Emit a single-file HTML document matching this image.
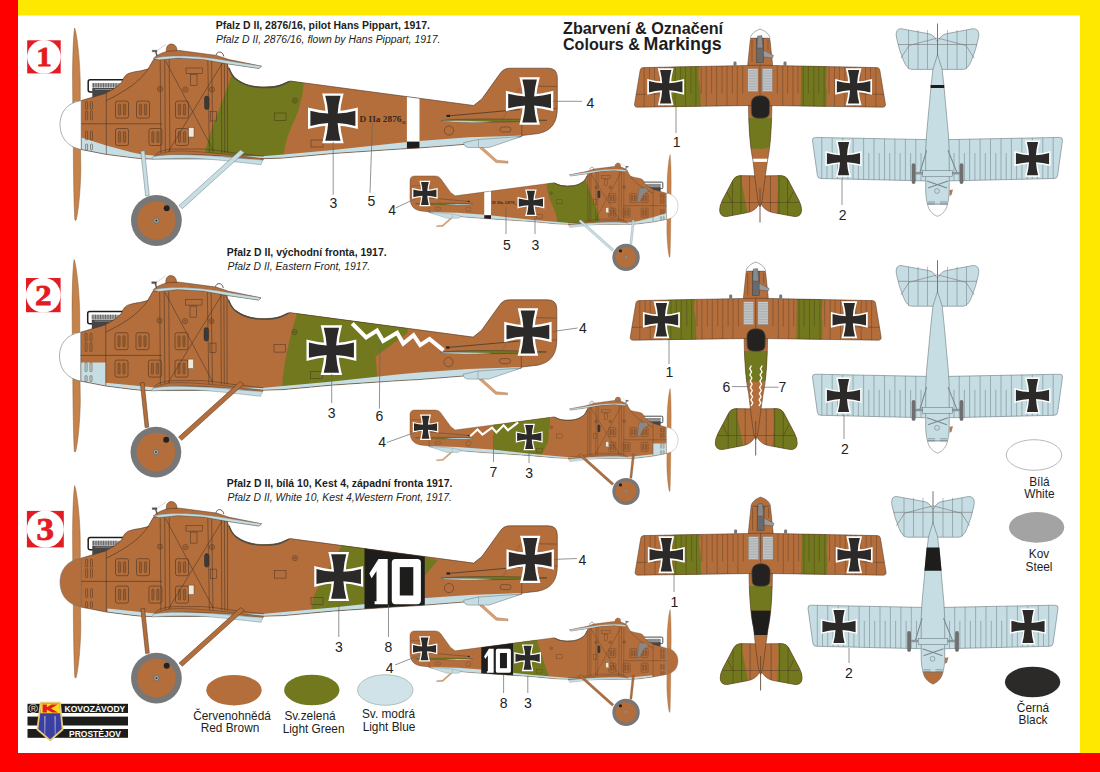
<!DOCTYPE html>
<html><head><meta charset="utf-8"><title>Pfalz D II</title>
<style>html,body{margin:0;padding:0;background:#fff}body{width:1100px;height:772px;overflow:hidden;position:relative;font-family:"Liberation Sans",sans-serif}svg{position:absolute;left:0;top:0;display:block}</style></head>
<body>
<svg width="1100" height="772" viewBox="0 0 1100 772">
<rect x="0" y="0" width="1100" height="772" fill="#ffffff"/>
<rect x="18" y="0" width="1082" height="15.5" fill="#FFE800"/>
<rect x="1080" y="0" width="20" height="753" fill="#FFE800"/>
<rect x="0" y="0" width="18" height="772" fill="#FF0000"/>
<rect x="0" y="753" width="1100" height="19" fill="#FF0000"/>
<text x="215.8" y="28.6" font-family="'Liberation Sans', sans-serif" font-size="10.45" font-weight="bold" font-style="normal" text-anchor="start" fill="#1d1d1b" >Pfalz D II, 2876/16, pilot Hans Pippart, 1917.</text>
<text x="216" y="43" font-family="'Liberation Sans', sans-serif" font-size="10.42" font-weight="normal" font-style="italic" text-anchor="start" fill="#1d1d1b" >Pfalz D II, 2876/16, flown by Hans Pippart, 1917.</text>
<text x="226.7" y="255.8" font-family="'Liberation Sans', sans-serif" font-size="10.48" font-weight="bold" font-style="normal" text-anchor="start" fill="#1d1d1b" >Pfalz D II, východní fronta, 1917.</text>
<text x="227.5" y="270.4" font-family="'Liberation Sans', sans-serif" font-size="10.4" font-weight="normal" font-style="italic" text-anchor="start" fill="#1d1d1b" >Pfalz D II, Eastern Front, 1917.</text>
<text x="226.7" y="486.9" font-family="'Liberation Sans', sans-serif" font-size="10.48" font-weight="bold" font-style="normal" text-anchor="start" fill="#1d1d1b" >Pfalz D II, bílá 10, Kest 4, západní fronta 1917.</text>
<text x="227.5" y="501.1" font-family="'Liberation Sans', sans-serif" font-size="10.4" font-weight="normal" font-style="italic" text-anchor="start" fill="#1d1d1b" >Pfalz D II, White 10, Kest 4,Western Front, 1917.</text>
<text x="563" y="33.8" font-family="'Liberation Sans', sans-serif" font-size="16.2" font-weight="bold" font-style="normal" text-anchor="start" fill="#1d1d1b" >Zbarvení &amp; Označení</text>
<text x="563" y="49.6" font-family="'Liberation Sans', sans-serif" font-size="16.1" font-weight="bold" font-style="normal" text-anchor="start" fill="#1d1d1b" >Colours &amp;</text>
<text x="643.6" y="49.8" font-family="'Liberation Sans', sans-serif" font-size="17.8" font-weight="bold" font-style="normal" text-anchor="start" fill="#1d1d1b" >Markings</text>
<rect x="27.2" y="40.3" width="33.5" height="33.10000000000001" fill="#E31B23"/><circle cx="43.95" cy="56.85" r="16.850000000000005" fill="#fff"/><g transform="translate(43.95,56.85) scale(1.13,1)"><text x="0" y="9.295" font-family="'Liberation Serif', sans-serif" font-size="27.5" font-weight="bold" font-style="normal" text-anchor="middle" fill="#E31B23" stroke="#E31B23" stroke-width="0.8">1</text></g>
<rect x="26" y="278" width="34.6" height="34.19999999999999" fill="#E31B23"/><circle cx="43.3" cy="295.1" r="17.399999999999995" fill="#fff"/><g transform="translate(43.3,295.1) scale(1.13,1)"><text x="0" y="9.971" font-family="'Liberation Serif', sans-serif" font-size="29.5" font-weight="bold" font-style="normal" text-anchor="middle" fill="#E31B23" stroke="#E31B23" stroke-width="0.8">2</text></g>
<rect x="26.9" y="510.9" width="36.9" height="36.5" fill="#E31B23"/><circle cx="45.349999999999994" cy="529.15" r="18.55" fill="#fff"/><g transform="translate(45.349999999999994,529.15) scale(1.13,1)"><text x="0" y="10.478000000000002" font-family="'Liberation Serif', sans-serif" font-size="31" font-weight="bold" font-style="normal" text-anchor="middle" fill="#E31B23" stroke="#E31B23" stroke-width="0.8">3</text></g>
<ellipse cx="234" cy="690.2" rx="27.7" ry="15.3" fill="#B36E3C" stroke="none" stroke-width="0.7"/>
<ellipse cx="311.8" cy="690" rx="27.7" ry="15.3" fill="#71781D" stroke="none" stroke-width="0.7"/>
<ellipse cx="385.3" cy="690" rx="27.7" ry="15.3" fill="#CFE3E9" stroke="#9aa" stroke-width="0.7"/>
<ellipse cx="1034" cy="455" rx="27.7" ry="15.3" fill="#fff" stroke="#999" stroke-width="0.7"/>
<ellipse cx="1036.6" cy="527.4" rx="27.7" ry="15.3" fill="#A3A3A3" stroke="none" stroke-width="0.7"/>
<ellipse cx="1032.6" cy="682" rx="27.7" ry="15.3" fill="#2b2a29" stroke="none" stroke-width="0.7"/>
<text x="232" y="719.5" font-family="'Liberation Sans', sans-serif" font-size="11.85" font-weight="normal" font-style="normal" text-anchor="middle" fill="#1d1d1b" >Červenohnědá</text>
<text x="230" y="732" font-family="'Liberation Sans', sans-serif" font-size="11.85" font-weight="normal" font-style="normal" text-anchor="middle" fill="#1d1d1b" >Red Brown</text>
<text x="310" y="719.5" font-family="'Liberation Sans', sans-serif" font-size="11.85" font-weight="normal" font-style="normal" text-anchor="middle" fill="#1d1d1b" >Sv.zelená</text>
<text x="313.6" y="732.5" font-family="'Liberation Sans', sans-serif" font-size="11.85" font-weight="normal" font-style="normal" text-anchor="middle" fill="#1d1d1b" >Light Green</text>
<text x="388.5" y="718" font-family="'Liberation Sans', sans-serif" font-size="11.85" font-weight="normal" font-style="normal" text-anchor="middle" fill="#1d1d1b" >Sv. modrá</text>
<text x="389" y="730.5" font-family="'Liberation Sans', sans-serif" font-size="11.85" font-weight="normal" font-style="normal" text-anchor="middle" fill="#1d1d1b" >Light Blue</text>
<text x="1039.4" y="485.5" font-family="'Liberation Sans', sans-serif" font-size="11.85" font-weight="normal" font-style="normal" text-anchor="middle" fill="#1d1d1b" >Bílá</text>
<text x="1039.4" y="498" font-family="'Liberation Sans', sans-serif" font-size="11.85" font-weight="normal" font-style="normal" text-anchor="middle" fill="#1d1d1b" >White</text>
<text x="1039" y="558" font-family="'Liberation Sans', sans-serif" font-size="11.85" font-weight="normal" font-style="normal" text-anchor="middle" fill="#1d1d1b" >Kov</text>
<text x="1039" y="571" font-family="'Liberation Sans', sans-serif" font-size="11.85" font-weight="normal" font-style="normal" text-anchor="middle" fill="#1d1d1b" >Steel</text>
<text x="1033" y="711.5" font-family="'Liberation Sans', sans-serif" font-size="11.85" font-weight="normal" font-style="normal" text-anchor="middle" fill="#1d1d1b" >Černá</text>
<text x="1033" y="723.5" font-family="'Liberation Sans', sans-serif" font-size="11.85" font-weight="normal" font-style="normal" text-anchor="middle" fill="#1d1d1b" >Black</text>
<rect x="27.5" y="703.8" width="100.5" height="9.2" fill="#1d1d1b"/>
<rect x="27.5" y="716.6" width="100.5" height="8.9" fill="#1d1d1b"/>
<rect x="27.5" y="729" width="100.5" height="8.8" fill="#1d1d1b"/>
<path d="M40.7,702.7 L60,702.7 L62.6,729.5 L50.2,740.4 L37.4,729.5 Z" fill="#3A3FA3" stroke="#E9CC78" stroke-width="1.8" stroke-linejoin="round"/>
<path d="M44.2,716 L45.6,716 L45.2,735.5 L44.4,734.8 Z M54.4,716 L55.8,716 L55.6,734.8 L54.8,735.5 Z" fill="#b9b6c8" opacity="0.8"/>
<path d="M41.3,703.6 L59.4,703.6 L60.2,713.3 L40.4,713.3 Z" fill="#FFD91A"/>
<path d="M42.6,704.4 L46.8,704.4 L46.8,707.2 L51.6,704.4 L57.6,704.4 L51,708.4 L58,712.6 L52,712.6 L46.8,709.6 L46.8,712.6 L42.6,712.6 Z" fill="#E31B23"/>
<circle cx="33.2" cy="708.4" r="4.2" fill="none" stroke="#ddd" stroke-width="0.8"/>
<text x="33.3" y="710.8" font-family="'Liberation Sans', sans-serif" font-size="6.6" font-weight="normal" font-style="normal" text-anchor="middle" fill="#eee" >R</text>
<text x="64.5" y="712" font-family="'Liberation Sans', sans-serif" font-size="8.55" font-weight="bold" font-style="normal" text-anchor="start" fill="#fff" >KOVOZÁVODY</text>
<text x="69" y="737" font-family="'Liberation Sans', sans-serif" font-size="8.5" font-weight="bold" font-style="normal" text-anchor="start" fill="#fff" >PROSTĚJOV</text>
<g transform="translate(0,0)">
<clipPath id="fc1"><path d="M81.2,100.6 L105.1,93.5 L114.9,88 L121.5,82.5 C122.5,80 123.5,78 124.7,76.5 C126,74.8 127.5,73.8 129.1,73.3 C133,72 137,71.3 140,71 L148,69 C150,66 152,62 153.6,59.5 L178,57 L204,59 L227,63.6 C229,70 232,76 236.4,79 C243,84 250,86 258,86.8 C268,87.5 277,86.5 281.8,84.5 L290,81 L473.6,105.5 L481.8,99 L500,73.6 Q503.5,68.2 510,68.2 L548,68.2 Q557.3,68.2 557.3,77.5 L557.3,108 C557.3,122 552,131 538,133.6 L521.8,135.5 L521.8,136.4 L489,144 L463,144.5 L419,148 L400,149 L333,153.5 L283.6,158 L262,158.7 L152,159 L142,158.7 L131.4,157.6 L106.3,154.4 L81.2,149.5 Z"/></clipPath>
<path d="M74.6,28 C76.5,32 79.6,55 80.2,80 L80.3,104.6 L80.5,146 L80.8,170 C80.5,190 78.5,210 76.3,219.5 Q75.4,221.5 74.8,219.5 C74,205 73.5,180 73.3,144.4 L72.8,104.6 L72.6,80 C72.6,55 73.5,35 74.6,28 Z" fill="#C5824A" stroke="#8a5a33" stroke-width="0.5"/>
<rect x="88.2" y="79.8" width="38" height="12.3" rx="2" fill="#fff" stroke="#1d1d1b" stroke-width="1.5"/>
<rect x="92" y="83.1" width="30" height="4.4" fill="#a5a5a5"/>
<path d="M93.5,83.1 L93.5,87.5 M96,83.1 L96,87.5 M98.5,83.1 L98.5,87.5 M101,83.1 L101,87.5 M103.5,83.1 L103.5,87.5 M106,83.1 L106,87.5 M108.5,83.1 L108.5,87.5 M111,83.1 L111,87.5 M113.5,83.1 L113.5,87.5 M116,83.1 L116,87.5" stroke="#555" stroke-width="0.8" fill="none"/>
<rect x="92.3" y="88" width="30" height="10" fill="#454545"/>
<path d="M95,89.5 L112,89.5" stroke="#999" stroke-width="0.8"/>
<g clip-path="url(#fc1)">
<rect x="55" y="40" width="510" height="130" fill="#B36E3C"/>
<path d="M231.6,60 L303.6,83 C303,100 297,115 291,128 C286,140 284,148 283.6,160 L205,160 L205.5,149 L211.3,130 L231.6,75.7 Z" fill="#71781D"/>
<path d="M81.2,137.5 L106.3,145.6 L131.4,152.2 L142.3,154.4 L153,155.5 L262,156.3 L283.6,154.5 L333,150 L400,142.7 L419,141 L469,137.3 L521.8,135.5 L560,135 L560,170 L70,170 L70,137.5 Z" fill="#C6DDE3"/>
<rect x="406.9" y="60" width="12.6" height="110" fill="#fff"/>
<rect x="406.9" y="141.6" width="12.6" height="20" fill="#1d1d1b"/>
</g>
<path d="M81.2,100.6 L105.1,93.5 L114.9,88 L121.5,82.5 C122.5,80 123.5,78 124.7,76.5 C126,74.8 127.5,73.8 129.1,73.3 C133,72 137,71.3 140,71 L148,69 C150,66 152,62 153.6,59.5 L178,57 L204,59 L227,63.6 C229,70 232,76 236.4,79 C243,84 250,86 258,86.8 C268,87.5 277,86.5 281.8,84.5 L290,81 L473.6,105.5 L481.8,99 L500,73.6 Q503.5,68.2 510,68.2 L548,68.2 Q557.3,68.2 557.3,77.5 L557.3,108 C557.3,122 552,131 538,133.6 L521.8,135.5 L521.8,136.4 L489,144 L463,144.5 L419,148 L400,149 L333,153.5 L283.6,158 L262,158.7 L152,159 L142,158.7 L131.4,157.6 L106.3,154.4 L81.2,149.5 Z" fill="none" stroke="#4a3322" stroke-width="0.6"/>
<path d="M229,68 C231,74 233,77 236.4,79.5 C243,84.5 250,86.5 258,87.3 C268,88 277,87 281.8,85 L289,81.6" fill="none" stroke="#4d4a40" stroke-width="1.4"/>
<path d="M81.2,100.6 C67,102.5 60,113 60,124 C60,136 66,146.5 81.2,149.5 Z" fill="#ffffff" stroke="#777" stroke-width="0.6"/>
<rect x="115.5" y="101.1" width="13" height="17" rx="2" fill="none" stroke="#4a3322" stroke-width="0.6"/><rect x="118.4" y="104.1" width="2.2" height="11" rx="1" fill="#9a5e30" stroke="#4a3322" stroke-width="0.4"/><rect x="123.4" y="104.1" width="2.2" height="11" rx="1" fill="#9a5e30" stroke="#4a3322" stroke-width="0.4"/>
<rect x="136.5" y="101.1" width="13" height="17" rx="2" fill="none" stroke="#4a3322" stroke-width="0.6"/><rect x="139.4" y="104.1" width="2.2" height="11" rx="1" fill="#9a5e30" stroke="#4a3322" stroke-width="0.4"/><rect x="144.4" y="104.1" width="2.2" height="11" rx="1" fill="#9a5e30" stroke="#4a3322" stroke-width="0.4"/>
<rect x="115.5" y="128.5" width="13" height="17" rx="2" fill="none" stroke="#4a3322" stroke-width="0.6"/><rect x="118.4" y="131.5" width="2.2" height="11" rx="1" fill="#9a5e30" stroke="#4a3322" stroke-width="0.4"/><rect x="123.4" y="131.5" width="2.2" height="11" rx="1" fill="#9a5e30" stroke="#4a3322" stroke-width="0.4"/>
<rect x="148.9" y="128.5" width="13" height="17" rx="2" fill="none" stroke="#4a3322" stroke-width="0.6"/><rect x="151.8" y="131.5" width="2.2" height="11" rx="1" fill="#9a5e30" stroke="#4a3322" stroke-width="0.4"/><rect x="156.8" y="131.5" width="2.2" height="11" rx="1" fill="#9a5e30" stroke="#4a3322" stroke-width="0.4"/>
<rect x="175.5" y="101.1" width="13" height="17" rx="2" fill="none" stroke="#4a3322" stroke-width="0.6"/><rect x="178.4" y="104.1" width="2.2" height="11" rx="1" fill="#9a5e30" stroke="#4a3322" stroke-width="0.4"/><rect x="183.4" y="104.1" width="2.2" height="11" rx="1" fill="#9a5e30" stroke="#4a3322" stroke-width="0.4"/>
<rect x="175.5" y="128.5" width="13" height="17" rx="2" fill="none" stroke="#4a3322" stroke-width="0.6"/><rect x="178.4" y="131.5" width="2.2" height="11" rx="1" fill="#9a5e30" stroke="#4a3322" stroke-width="0.4"/><rect x="183.4" y="131.5" width="2.2" height="11" rx="1" fill="#9a5e30" stroke="#4a3322" stroke-width="0.4"/>
<rect x="85.6" y="101.5" width="2" height="8" rx="1" fill="none" stroke="#4a3322" stroke-width="0.5"/>
<rect x="90.5" y="101.5" width="2" height="8" rx="1" fill="none" stroke="#4a3322" stroke-width="0.5"/>
<rect x="85.6" y="111" width="2" height="9" rx="1" fill="none" stroke="#4a3322" stroke-width="0.5"/>
<rect x="90.5" y="111" width="2" height="9" rx="1" fill="none" stroke="#4a3322" stroke-width="0.5"/>
<rect x="85.6" y="131" width="2" height="9" rx="1" fill="none" stroke="#4a3322" stroke-width="0.5"/>
<rect x="90.5" y="131" width="2" height="9" rx="1" fill="none" stroke="#4a3322" stroke-width="0.5"/>
<rect x="85.6" y="144" width="2" height="6" rx="1" fill="none" stroke="#4a3322" stroke-width="0.5"/>
<rect x="90.5" y="144" width="2" height="6" rx="1" fill="none" stroke="#4a3322" stroke-width="0.5"/>
<path d="M81.2,123.8 L162,123.8 M106.3,93 L106.3,154 M106.3,100.5 C116,96 128,89 135.5,82.7 C141,78 145,74 148.5,68.5" fill="none" stroke="#4a3322" stroke-width="0.6"/>
<rect x="274.5" y="113" width="11.5" height="7.5" fill="none" stroke="#4a3322" stroke-width="0.5"/>
<rect x="311" y="140" width="12" height="7" fill="none" stroke="#4a3322" stroke-width="0.5"/>
<rect x="210.5" y="111.5" width="6" height="9.5" fill="none" stroke="#4a3322" stroke-width="0.5"/>
<rect x="204.5" y="96" width="4.6" height="13.5" rx="2.3" fill="#3a3a3a" stroke="#222" stroke-width="0.4"/>
<rect x="188.5" y="127.5" width="5.5" height="9.5" fill="#f1e9d8" stroke="#4a3322" stroke-width="0.4"/>
<rect x="186" y="68" width="16.5" height="5.5" fill="none" stroke="#4a3322" stroke-width="0.5"/>
<rect x="190.5" y="74.5" width="6.5" height="11" fill="none" stroke="#4a3322" stroke-width="0.5"/>
<circle cx="160" cy="89" r="2.6" fill="none" stroke="#4a3322" stroke-width="0.5"/><circle cx="160" cy="89" r="1.1" fill="none" stroke="#4a3322" stroke-width="0.4"/>
<circle cx="185.5" cy="89.5" r="2.6" fill="none" stroke="#4a3322" stroke-width="0.5"/><circle cx="185.5" cy="89.5" r="1.1" fill="none" stroke="#4a3322" stroke-width="0.4"/>
<circle cx="212" cy="89.5" r="2.6" fill="none" stroke="#4a3322" stroke-width="0.5"/><circle cx="212" cy="89.5" r="1.1" fill="none" stroke="#4a3322" stroke-width="0.4"/>
<circle cx="295" cy="100.5" r="2.6" fill="none" stroke="#4a3322" stroke-width="0.5"/><circle cx="295" cy="100.5" r="1.1" fill="none" stroke="#4a3322" stroke-width="0.4"/>
<circle cx="449" cy="130.5" r="4.6" fill="none" stroke="#4a3322" stroke-width="0.5"/>
<rect x="500" y="127" width="11" height="5" rx="2.5" fill="none" stroke="#4a3322" stroke-width="0.5"/>
<path d="M521.8,118 L521.8,136" fill="none" stroke="#4a3322" stroke-width="0.5"/>
<path d="M481.8,146.5 L497,160.2 L508,161.3 L508,163.2 L496,162.6 L479.5,148 Z" fill="#DDA070" stroke="#9a6a45" stroke-width="0.4"/>
<path d="M463.6,142.7 C464,146 466,147.5 469,147.5 L489,147.5 L521.8,136.4 L478,139.5 Z" fill="#C6DDE3" stroke="#66757a" stroke-width="0.5"/>
<path d="M478.5,139.5 L478.5,147.3" stroke="#66757a" stroke-width="0.4" fill="none"/>
<path d="M527,86 L557,86.5 M530,108 L557,108.5" stroke="#7a4a28" stroke-width="0.8" fill="none"/>
<path d="M447,116 L520,109.5" stroke="#3a3028" stroke-width="0.7" fill="none"/>
<rect x="446.5" y="114.8" width="3.5" height="2.2" fill="#222"/>
<path d="M503,119 L520,87" stroke="#a0663a" stroke-width="1.2" fill="none"/>
<path d="M441,120.6 C460,118.3 520,118.8 547,120.3 C520,122.2 470,123 441,120.6 Z" fill="#71781D" stroke="#3a3a30" stroke-width="0.5"/>
<path d="M441,120.8 C455,122.8 480,122.8 492,121.4 C475,121 455,120.6 441,120.8 Z" fill="#C6DDE3" stroke="#66757a" stroke-width="0.3"/>
<g transform="translate(332.9,118.3) scale(22.5)"><path d="M -0.34,-1 L 0.34,-1 Q 0.235,-0.6 0.21,-0.21 Q 0.6,-0.235 1,-0.34 L 1,0.34 Q 0.6,0.235 0.21,0.21 Q 0.235,0.6 0.34,1 L -0.34,1 Q -0.235,0.6 -0.21,0.21 Q -0.6,0.235 -1,0.34 L -1,-0.34 Q -0.6,-0.235 -0.21,-0.21 Q -0.235,-0.6 -0.34,-1 Z" fill="#fff" stroke="#fff" stroke-width="0.2133" stroke-linejoin="miter"/><path d="M -0.34,-1 L 0.34,-1 Q 0.235,-0.6 0.21,-0.21 Q 0.6,-0.235 1,-0.34 L 1,0.34 Q 0.6,0.235 0.21,0.21 Q 0.235,0.6 0.34,1 L -0.34,1 Q -0.235,0.6 -0.21,0.21 Q -0.6,0.235 -1,0.34 L -1,-0.34 Q -0.6,-0.235 -0.21,-0.21 Q -0.235,-0.6 -0.34,-1 Z" fill="#2b2a29"/></g>
<text x="359.5" y="121.5" font-family="'Liberation Serif', serif" font-size="7.6" font-weight="bold" fill="#3a2a1c" textLength="42" lengthAdjust="spacingAndGlyphs">D IIa  2876</text><text x="401" y="123.5" font-family="'Liberation Serif', serif" font-size="3.5" font-weight="bold" fill="#3a2a1c">/16</text>
<g transform="translate(529.6,101) scale(21.4)"><path d="M -0.34,-1 L 0.34,-1 Q 0.235,-0.6 0.21,-0.21 Q 0.6,-0.235 1,-0.34 L 1,0.34 Q 0.6,0.235 0.21,0.21 Q 0.235,0.6 0.34,1 L -0.34,1 Q -0.235,0.6 -0.21,0.21 Q -0.6,0.235 -1,0.34 L -1,-0.34 Q -0.6,-0.235 -0.21,-0.21 Q -0.235,-0.6 -0.34,-1 Z" fill="#fff" stroke="#fff" stroke-width="0.2150" stroke-linejoin="miter"/><path d="M -0.34,-1 L 0.34,-1 Q 0.235,-0.6 0.21,-0.21 Q 0.6,-0.235 1,-0.34 L 1,0.34 Q 0.6,0.235 0.21,0.21 Q 0.235,0.6 0.34,1 L -0.34,1 Q -0.235,0.6 -0.21,0.21 Q -0.6,0.235 -1,0.34 L -1,-0.34 Q -0.6,-0.235 -0.21,-0.21 Q -0.235,-0.6 -0.34,-1 Z" fill="#2b2a29"/></g>
<path d="M160.2,59.5 L160.9,153 M164.7,59.5 L165.4,153 M169.2,59.5 L169.9,153 M207.8,59.5 L209.4,153 M211.6,59.5 L213,153 M221.3,59.5 L221.8,153 M224.4,59.5 L224.8,153 M227.5,59.5 L227.6,153 M165.6,61 L213,150 M223,62 L168,152" stroke="#4a3322" stroke-width="0.55" fill="none"/>
<path d="M154,156.3 C156,153.5 158,152.5 159,152 C164,150 168,149.3 173.6,149 L202.7,149 C212,149.6 222,151 231.8,152.6 L263.8,156.3" fill="none" stroke="#4a3322" stroke-width="0.5"/>
<path d="M154,156.6 C160,153.2 168,151.3 176,151 C195,150.6 228,154.3 263.6,158.6 L263,160.2 C240,157 205,154.2 186,154.4 C172,154.6 160,156 153,158 Z" fill="#B36E3C" stroke="#4a3322" stroke-width="0.4"/>
<path d="M153.6,156.5 C162,154.6 175,154.4 188,154.8 C205,155.2 220,156.4 231.8,157.7 L263,160 L261,164.7 L231.8,161.4 C215,159.6 200,158.4 188,158.2 C172,158.2 160,158.8 151.8,159.3 Z" fill="#C6DDE3" stroke="#66757a" stroke-width="0.4"/>
<path d="M153.4,58.5 C156,55.5 161,53 167.4,51.2 C171,50.4 176,50.3 180,50.6 L216.4,55.4 L229,59.6 L261.5,66.2 L259,68.4 L229,64 L203.6,59.4 L178.2,58 L159,59.8 Z" fill="#B36E3C" stroke="#4a3322" stroke-width="0.5"/>
<path d="M153.4,58.5 C160,56.6 170,56 180,56 C196,56 214,58.3 229,61 L261.5,66.2 L259,68.4 L229,64 L203.6,59.4 L178.2,58 L159,59.8 Z" fill="#C6DDE3" stroke="#66757a" stroke-width="0.4"/>
<path d="M166.3,51.3 C166,46 168.5,44 171.2,44 C174.5,44 177,46.5 177,50.6 Z" fill="#B36E3C" stroke="#4a3322" stroke-width="0.5"/>
<path d="M216,55.2 C216.5,52.8 218,52 219.5,52 C221.5,52 223.3,53.5 223.8,56.5" fill="none" stroke="#4a3322" stroke-width="0.8"/>
<path d="M152.2,50.2 L157,50.2 L157,51.8 L156.4,51.8 L157.5,56 L156.5,56 L155.2,51.8 L152.2,51.8 Z" fill="#555" stroke="#333" stroke-width="0.3"/>
<path d="M157,50.5 L166,44.5" stroke="#999" stroke-width="0.4"/>
<path d="M140.8,151.3 L144.6,150.7 L149.3,195.5 L145.6,196 Z" fill="#C6DDE3" stroke="#6d7c80" stroke-width="0.5"/>
<path d="M240.5,150 L244.3,152.6 L182.3,208.7 L179,205.5 Z" fill="#C6DDE3" stroke="#6d7c80" stroke-width="0.5"/>
<circle cx="156.4" cy="220.5" r="25.4" fill="#777777"/>
<circle cx="156.4" cy="220.5" r="19.3" fill="#B36E3C"/>
<circle cx="156.4" cy="220.5" r="2.6" fill="#9aa" stroke="#555" stroke-width="0.5"/><circle cx="156.4" cy="220.5" r="0.9" fill="#222"/>
<circle cx="166.7" cy="208.2" r="3" fill="#222"/>
</g>
<g transform="translate(-0.5,231.6)">
<clipPath id="fc2"><path d="M81.2,100.6 L105.1,93.5 L114.9,88 L121.5,82.5 C122.5,80 123.5,78 124.7,76.5 C126,74.8 127.5,73.8 129.1,73.3 C133,72 137,71.3 140,71 L148,69 C150,66 152,62 153.6,59.5 L178,57 L204,59 L227,63.6 C229,70 232,76 236.4,79 C243,84 250,86 258,86.8 C268,87.5 277,86.5 281.8,84.5 L290,81 L473.6,105.5 L481.8,99 L500,73.6 Q503.5,68.2 510,68.2 L548,68.2 Q557.3,68.2 557.3,77.5 L557.3,108 C557.3,122 552,131 538,133.6 L521.8,135.5 L521.8,136.4 L489,144 L463,144.5 L419,148 L400,149 L333,153.5 L283.6,158 L262,158.7 L152,159 L142,158.7 L131.4,157.6 L106.3,154.4 L81.2,149.5 Z"/></clipPath>
<path d="M74.6,28 C76.5,32 79.6,55 80.2,80 L80.3,104.6 L80.5,146 L80.8,170 C80.5,190 78.5,210 76.3,219.5 Q75.4,221.5 74.8,219.5 C74,205 73.5,180 73.3,144.4 L72.8,104.6 L72.6,80 C72.6,55 73.5,35 74.6,28 Z" fill="#C5824A" stroke="#8a5a33" stroke-width="0.5"/>
<rect x="88.2" y="79.8" width="38" height="12.3" rx="2" fill="#fff" stroke="#1d1d1b" stroke-width="1.5"/>
<rect x="92" y="83.1" width="30" height="4.4" fill="#a5a5a5"/>
<path d="M93.5,83.1 L93.5,87.5 M96,83.1 L96,87.5 M98.5,83.1 L98.5,87.5 M101,83.1 L101,87.5 M103.5,83.1 L103.5,87.5 M106,83.1 L106,87.5 M108.5,83.1 L108.5,87.5 M111,83.1 L111,87.5 M113.5,83.1 L113.5,87.5 M116,83.1 L116,87.5" stroke="#555" stroke-width="0.8" fill="none"/>
<rect x="92.3" y="88" width="30" height="10" fill="#454545"/>
<path d="M95,89.5 L112,89.5" stroke="#999" stroke-width="0.8"/>
<g clip-path="url(#fc2)">
<rect x="55" y="40" width="510" height="130" fill="#B36E3C"/>
<path d="M297,70 L410,70 L408,101.5 L376,125 L377,136 L379,160 L283,160 L283,151 C284,135 290,105 297,84 Z" fill="#71781D"/>
<path d="M70,130.9 L106.3,130.9 L106.3,151.1 L150,155.4 L153,155.6 L262,156.3 L283.6,154.5 L333,150 L400,142.7 L419,141 L469,137.3 L521.8,135.5 L560,135 L560,170 L70,170 Z" fill="#C6DDE3"/>
</g>
<path d="M81.2,100.6 L105.1,93.5 L114.9,88 L121.5,82.5 C122.5,80 123.5,78 124.7,76.5 C126,74.8 127.5,73.8 129.1,73.3 C133,72 137,71.3 140,71 L148,69 C150,66 152,62 153.6,59.5 L178,57 L204,59 L227,63.6 C229,70 232,76 236.4,79 C243,84 250,86 258,86.8 C268,87.5 277,86.5 281.8,84.5 L290,81 L473.6,105.5 L481.8,99 L500,73.6 Q503.5,68.2 510,68.2 L548,68.2 Q557.3,68.2 557.3,77.5 L557.3,108 C557.3,122 552,131 538,133.6 L521.8,135.5 L521.8,136.4 L489,144 L463,144.5 L419,148 L400,149 L333,153.5 L283.6,158 L262,158.7 L152,159 L142,158.7 L131.4,157.6 L106.3,154.4 L81.2,149.5 Z" fill="none" stroke="#4a3322" stroke-width="0.6"/>
<path d="M229,68 C231,74 233,77 236.4,79.5 C243,84.5 250,86.5 258,87.3 C268,88 277,87 281.8,85 L289,81.6" fill="none" stroke="#4d4a40" stroke-width="1.4"/>
<path d="M81.2,100.6 C67,102.5 60,113 60,124 C60,136 66,146.5 81.2,149.5 Z" fill="#ffffff" stroke="#777" stroke-width="0.6"/>
<rect x="115.5" y="101.1" width="13" height="17" rx="2" fill="none" stroke="#4a3322" stroke-width="0.6"/><rect x="118.4" y="104.1" width="2.2" height="11" rx="1" fill="#9a5e30" stroke="#4a3322" stroke-width="0.4"/><rect x="123.4" y="104.1" width="2.2" height="11" rx="1" fill="#9a5e30" stroke="#4a3322" stroke-width="0.4"/>
<rect x="136.5" y="101.1" width="13" height="17" rx="2" fill="none" stroke="#4a3322" stroke-width="0.6"/><rect x="139.4" y="104.1" width="2.2" height="11" rx="1" fill="#9a5e30" stroke="#4a3322" stroke-width="0.4"/><rect x="144.4" y="104.1" width="2.2" height="11" rx="1" fill="#9a5e30" stroke="#4a3322" stroke-width="0.4"/>
<rect x="115.5" y="128.5" width="13" height="17" rx="2" fill="none" stroke="#4a3322" stroke-width="0.6"/><rect x="118.4" y="131.5" width="2.2" height="11" rx="1" fill="#9a5e30" stroke="#4a3322" stroke-width="0.4"/><rect x="123.4" y="131.5" width="2.2" height="11" rx="1" fill="#9a5e30" stroke="#4a3322" stroke-width="0.4"/>
<rect x="148.9" y="128.5" width="13" height="17" rx="2" fill="none" stroke="#4a3322" stroke-width="0.6"/><rect x="151.8" y="131.5" width="2.2" height="11" rx="1" fill="#9a5e30" stroke="#4a3322" stroke-width="0.4"/><rect x="156.8" y="131.5" width="2.2" height="11" rx="1" fill="#9a5e30" stroke="#4a3322" stroke-width="0.4"/>
<rect x="175.5" y="101.1" width="13" height="17" rx="2" fill="none" stroke="#4a3322" stroke-width="0.6"/><rect x="178.4" y="104.1" width="2.2" height="11" rx="1" fill="#9a5e30" stroke="#4a3322" stroke-width="0.4"/><rect x="183.4" y="104.1" width="2.2" height="11" rx="1" fill="#9a5e30" stroke="#4a3322" stroke-width="0.4"/>
<rect x="175.5" y="128.5" width="13" height="17" rx="2" fill="none" stroke="#4a3322" stroke-width="0.6"/><rect x="178.4" y="131.5" width="2.2" height="11" rx="1" fill="#9a5e30" stroke="#4a3322" stroke-width="0.4"/><rect x="183.4" y="131.5" width="2.2" height="11" rx="1" fill="#9a5e30" stroke="#4a3322" stroke-width="0.4"/>
<rect x="85.6" y="101.5" width="2" height="8" rx="1" fill="none" stroke="#4a3322" stroke-width="0.5"/>
<rect x="90.5" y="101.5" width="2" height="8" rx="1" fill="none" stroke="#4a3322" stroke-width="0.5"/>
<rect x="85.6" y="111" width="2" height="9" rx="1" fill="none" stroke="#4a3322" stroke-width="0.5"/>
<rect x="90.5" y="111" width="2" height="9" rx="1" fill="none" stroke="#4a3322" stroke-width="0.5"/>
<rect x="85.6" y="131" width="2" height="9" rx="1" fill="none" stroke="#4a3322" stroke-width="0.5"/>
<rect x="90.5" y="131" width="2" height="9" rx="1" fill="none" stroke="#4a3322" stroke-width="0.5"/>
<rect x="85.6" y="144" width="2" height="6" rx="1" fill="none" stroke="#4a3322" stroke-width="0.5"/>
<rect x="90.5" y="144" width="2" height="6" rx="1" fill="none" stroke="#4a3322" stroke-width="0.5"/>
<path d="M81.2,123.8 L162,123.8 M106.3,93 L106.3,154 M106.3,100.5 C116,96 128,89 135.5,82.7 C141,78 145,74 148.5,68.5" fill="none" stroke="#4a3322" stroke-width="0.6"/>
<rect x="274.5" y="113" width="11.5" height="7.5" fill="none" stroke="#4a3322" stroke-width="0.5"/>
<rect x="311" y="140" width="12" height="7" fill="none" stroke="#4a3322" stroke-width="0.5"/>
<rect x="210.5" y="111.5" width="6" height="9.5" fill="none" stroke="#4a3322" stroke-width="0.5"/>
<rect x="204.5" y="96" width="4.6" height="13.5" rx="2.3" fill="#3a3a3a" stroke="#222" stroke-width="0.4"/>
<rect x="188.5" y="127.5" width="5.5" height="9.5" fill="#f1e9d8" stroke="#4a3322" stroke-width="0.4"/>
<rect x="186" y="68" width="16.5" height="5.5" fill="none" stroke="#4a3322" stroke-width="0.5"/>
<rect x="190.5" y="74.5" width="6.5" height="11" fill="none" stroke="#4a3322" stroke-width="0.5"/>
<circle cx="160" cy="89" r="2.6" fill="none" stroke="#4a3322" stroke-width="0.5"/><circle cx="160" cy="89" r="1.1" fill="none" stroke="#4a3322" stroke-width="0.4"/>
<circle cx="185.5" cy="89.5" r="2.6" fill="none" stroke="#4a3322" stroke-width="0.5"/><circle cx="185.5" cy="89.5" r="1.1" fill="none" stroke="#4a3322" stroke-width="0.4"/>
<circle cx="212" cy="89.5" r="2.6" fill="none" stroke="#4a3322" stroke-width="0.5"/><circle cx="212" cy="89.5" r="1.1" fill="none" stroke="#4a3322" stroke-width="0.4"/>
<circle cx="295" cy="100.5" r="2.6" fill="none" stroke="#4a3322" stroke-width="0.5"/><circle cx="295" cy="100.5" r="1.1" fill="none" stroke="#4a3322" stroke-width="0.4"/>
<circle cx="449" cy="130.5" r="4.6" fill="none" stroke="#4a3322" stroke-width="0.5"/>
<rect x="500" y="127" width="11" height="5" rx="2.5" fill="none" stroke="#4a3322" stroke-width="0.5"/>
<path d="M521.8,118 L521.8,136" fill="none" stroke="#4a3322" stroke-width="0.5"/>
<path d="M481.8,146.5 L497,160.2 L508,161.3 L508,163.2 L496,162.6 L479.5,148 Z" fill="#DDA070" stroke="#9a6a45" stroke-width="0.4"/>
<path d="M463.6,142.7 C464,146 466,147.5 469,147.5 L489,147.5 L521.8,136.4 L478,139.5 Z" fill="#C6DDE3" stroke="#66757a" stroke-width="0.5"/>
<path d="M478.5,139.5 L478.5,147.3" stroke="#66757a" stroke-width="0.4" fill="none"/>
<path d="M527,86 L557,86.5 M530,108 L557,108.5" stroke="#7a4a28" stroke-width="0.8" fill="none"/>
<path d="M447,116 L520,109.5" stroke="#3a3028" stroke-width="0.7" fill="none"/>
<rect x="446.5" y="114.8" width="3.5" height="2.2" fill="#222"/>
<path d="M503,119 L520,87" stroke="#a0663a" stroke-width="1.2" fill="none"/>
<path d="M441,120.6 C460,118.3 520,118.8 547,120.3 C520,122.2 470,123 441,120.6 Z" fill="#71781D" stroke="#3a3a30" stroke-width="0.5"/>
<path d="M441,120.8 C455,122.8 480,122.8 492,121.4 C475,121 455,120.6 441,120.8 Z" fill="#C6DDE3" stroke="#66757a" stroke-width="0.3"/>
<g transform="translate(331.9,118.6) scale(22.5)"><path d="M -0.34,-1 L 0.34,-1 Q 0.235,-0.6 0.21,-0.21 Q 0.6,-0.235 1,-0.34 L 1,0.34 Q 0.6,0.235 0.21,0.21 Q 0.235,0.6 0.34,1 L -0.34,1 Q -0.235,0.6 -0.21,0.21 Q -0.6,0.235 -1,0.34 L -1,-0.34 Q -0.6,-0.235 -0.21,-0.21 Q -0.235,-0.6 -0.34,-1 Z" fill="#fff" stroke="#fff" stroke-width="0.2133" stroke-linejoin="miter"/><path d="M -0.34,-1 L 0.34,-1 Q 0.235,-0.6 0.21,-0.21 Q 0.6,-0.235 1,-0.34 L 1,0.34 Q 0.6,0.235 0.21,0.21 Q 0.235,0.6 0.34,1 L -0.34,1 Q -0.235,0.6 -0.21,0.21 Q -0.6,0.235 -1,0.34 L -1,-0.34 Q -0.6,-0.235 -0.21,-0.21 Q -0.235,-0.6 -0.34,-1 Z" fill="#2b2a29"/></g>
<path d="M352.7,91.9 L366.6,105.8 L377.5,99 L383.6,109.5 L397.6,101.1 L403.7,112 L414,103.5 L420.7,113.5 L430,107.3 L444,118.8" fill="none" stroke="#fff" stroke-width="4" stroke-linejoin="miter" stroke-linecap="butt"/>
<g transform="translate(528.4,100.4) scale(21.4)"><path d="M -0.34,-1 L 0.34,-1 Q 0.235,-0.6 0.21,-0.21 Q 0.6,-0.235 1,-0.34 L 1,0.34 Q 0.6,0.235 0.21,0.21 Q 0.235,0.6 0.34,1 L -0.34,1 Q -0.235,0.6 -0.21,0.21 Q -0.6,0.235 -1,0.34 L -1,-0.34 Q -0.6,-0.235 -0.21,-0.21 Q -0.235,-0.6 -0.34,-1 Z" fill="#fff" stroke="#fff" stroke-width="0.2150" stroke-linejoin="miter"/><path d="M -0.34,-1 L 0.34,-1 Q 0.235,-0.6 0.21,-0.21 Q 0.6,-0.235 1,-0.34 L 1,0.34 Q 0.6,0.235 0.21,0.21 Q 0.235,0.6 0.34,1 L -0.34,1 Q -0.235,0.6 -0.21,0.21 Q -0.6,0.235 -1,0.34 L -1,-0.34 Q -0.6,-0.235 -0.21,-0.21 Q -0.235,-0.6 -0.34,-1 Z" fill="#2b2a29"/></g>
<path d="M160.2,59.5 L160.9,153 M164.7,59.5 L165.4,153 M169.2,59.5 L169.9,153 M207.8,59.5 L209.4,153 M211.6,59.5 L213,153 M221.3,59.5 L221.8,153 M224.4,59.5 L224.8,153 M227.5,59.5 L227.6,153 M165.6,61 L213,150 M223,62 L168,152" stroke="#4a3322" stroke-width="0.55" fill="none"/>
<path d="M154,156.3 C156,153.5 158,152.5 159,152 C164,150 168,149.3 173.6,149 L202.7,149 C212,149.6 222,151 231.8,152.6 L263.8,156.3" fill="none" stroke="#4a3322" stroke-width="0.5"/>
<path d="M154,156.6 C160,153.2 168,151.3 176,151 C195,150.6 228,154.3 263.6,158.6 L263,160.2 C240,157 205,154.2 186,154.4 C172,154.6 160,156 153,158 Z" fill="#B36E3C" stroke="#4a3322" stroke-width="0.4"/>
<path d="M153.6,156.5 C162,154.6 175,154.4 188,154.8 C205,155.2 220,156.4 231.8,157.7 L263,160 L261,164.7 L231.8,161.4 C215,159.6 200,158.4 188,158.2 C172,158.2 160,158.8 151.8,159.3 Z" fill="#C6DDE3" stroke="#66757a" stroke-width="0.4"/>
<path d="M153.4,58.5 C156,55.5 161,53 167.4,51.2 C171,50.4 176,50.3 180,50.6 L216.4,55.4 L229,59.6 L261.5,66.2 L259,68.4 L229,64 L203.6,59.4 L178.2,58 L159,59.8 Z" fill="#B36E3C" stroke="#4a3322" stroke-width="0.5"/>
<path d="M153.4,58.5 C160,56.6 170,56 180,56 C196,56 214,58.3 229,61 L261.5,66.2 L259,68.4 L229,64 L203.6,59.4 L178.2,58 L159,59.8 Z" fill="#C6DDE3" stroke="#66757a" stroke-width="0.4"/>
<path d="M166.3,51.3 C166,46 168.5,44 171.2,44 C174.5,44 177,46.5 177,50.6 Z" fill="#B36E3C" stroke="#4a3322" stroke-width="0.5"/>
<path d="M216,55.2 C216.5,52.8 218,52 219.5,52 C221.5,52 223.3,53.5 223.8,56.5" fill="none" stroke="#4a3322" stroke-width="0.8"/>
<path d="M152.2,50.2 L157,50.2 L157,51.8 L156.4,51.8 L157.5,56 L156.5,56 L155.2,51.8 L152.2,51.8 Z" fill="#555" stroke="#333" stroke-width="0.3"/>
<path d="M157,50.5 L166,44.5" stroke="#999" stroke-width="0.4"/>
<path d="M140.8,151.3 L144.6,150.7 L149.3,195.5 L145.6,196 Z" fill="#B36E3C" stroke="#4a3322" stroke-width="0.5"/>
<path d="M240.5,150 L244.3,152.6 L182.3,208.7 L179,205.5 Z" fill="#B36E3C" stroke="#4a3322" stroke-width="0.5"/>
<circle cx="156.4" cy="220.5" r="25.4" fill="#777777"/>
<circle cx="156.4" cy="220.5" r="19.3" fill="#B36E3C"/>
<circle cx="156.4" cy="220.5" r="2.6" fill="#9aa" stroke="#555" stroke-width="0.5"/><circle cx="156.4" cy="220.5" r="0.9" fill="#222"/>
<circle cx="166.7" cy="208.2" r="3" fill="#222"/>
</g>
<g transform="translate(0,457.6)">
<clipPath id="fc3"><path d="M81.2,100.6 L105.1,93.5 L114.9,88 L121.5,82.5 C122.5,80 123.5,78 124.7,76.5 C126,74.8 127.5,73.8 129.1,73.3 C133,72 137,71.3 140,71 L148,69 C150,66 152,62 153.6,59.5 L178,57 L204,59 L227,63.6 C229,70 232,76 236.4,79 C243,84 250,86 258,86.8 C268,87.5 277,86.5 281.8,84.5 L290,81 L473.6,105.5 L481.8,99 L500,73.6 Q503.5,68.2 510,68.2 L548,68.2 Q557.3,68.2 557.3,77.5 L557.3,108 C557.3,122 552,131 538,133.6 L521.8,135.5 L521.8,136.4 L489,144 L463,144.5 L419,148 L400,149 L333,153.5 L283.6,158 L262,158.7 L152,159 L142,158.7 L131.4,157.6 L106.3,154.4 L81.2,149.5 Z"/></clipPath>
<path d="M74.6,28 C76.5,32 79.6,55 80.2,80 L80.3,104.6 L80.5,146 L80.8,170 C80.5,190 78.5,210 76.3,219.5 Q75.4,221.5 74.8,219.5 C74,205 73.5,180 73.3,144.4 L72.8,104.6 L72.6,80 C72.6,55 73.5,35 74.6,28 Z" fill="#C5824A" stroke="#8a5a33" stroke-width="0.5"/>
<rect x="88.2" y="79.8" width="38" height="12.3" rx="2" fill="#fff" stroke="#1d1d1b" stroke-width="1.5"/>
<rect x="92" y="83.1" width="30" height="4.4" fill="#a5a5a5"/>
<path d="M93.5,83.1 L93.5,87.5 M96,83.1 L96,87.5 M98.5,83.1 L98.5,87.5 M101,83.1 L101,87.5 M103.5,83.1 L103.5,87.5 M106,83.1 L106,87.5 M108.5,83.1 L108.5,87.5 M111,83.1 L111,87.5 M113.5,83.1 L113.5,87.5 M116,83.1 L116,87.5" stroke="#555" stroke-width="0.8" fill="none"/>
<rect x="92.3" y="88" width="30" height="10" fill="#454545"/>
<path d="M95,89.5 L112,89.5" stroke="#999" stroke-width="0.8"/>
<g clip-path="url(#fc3)">
<rect x="55" y="40" width="510" height="130" fill="#B36E3C"/>
<path d="M349,70 L340.9,89.1 C336,98 333,104 329.3,110.2 C324,119 320,126 316.2,133.4 C313,140 311.5,146 310.5,160 L366,160 L366,70 Z" fill="#71781D"/>
<path d="M424,70 L424,99 L437.5,103 L424.8,118.5 Z" fill="#71781D"/>
<path d="M107.5,151 L150,155.4 L153,155.6 L262,156.3 L283.6,154.5 L333,150 L400,142.7 L419,141 L469,137.3 L521.8,135.5 L560,135 L560,170 L107.5,170 Z" fill="#C6DDE3"/>
<rect x="364.5" y="60" width="60.3" height="110" fill="#1d1d1b"/>
</g>
<path d="M81.2,100.6 L105.1,93.5 L114.9,88 L121.5,82.5 C122.5,80 123.5,78 124.7,76.5 C126,74.8 127.5,73.8 129.1,73.3 C133,72 137,71.3 140,71 L148,69 C150,66 152,62 153.6,59.5 L178,57 L204,59 L227,63.6 C229,70 232,76 236.4,79 C243,84 250,86 258,86.8 C268,87.5 277,86.5 281.8,84.5 L290,81 L473.6,105.5 L481.8,99 L500,73.6 Q503.5,68.2 510,68.2 L548,68.2 Q557.3,68.2 557.3,77.5 L557.3,108 C557.3,122 552,131 538,133.6 L521.8,135.5 L521.8,136.4 L489,144 L463,144.5 L419,148 L400,149 L333,153.5 L283.6,158 L262,158.7 L152,159 L142,158.7 L131.4,157.6 L106.3,154.4 L81.2,149.5 Z" fill="none" stroke="#4a3322" stroke-width="0.6"/>
<path d="M229,68 C231,74 233,77 236.4,79.5 C243,84.5 250,86.5 258,87.3 C268,88 277,87 281.8,85 L289,81.6" fill="none" stroke="#4d4a40" stroke-width="1.4"/>
<path d="M81.2,100.6 C67,102.5 60,113 60,124 C60,136 66,146.5 81.2,149.5 Z" fill="#B36E3C" stroke="#777" stroke-width="0.6"/>
<rect x="115.5" y="101.1" width="13" height="17" rx="2" fill="none" stroke="#4a3322" stroke-width="0.6"/><rect x="118.4" y="104.1" width="2.2" height="11" rx="1" fill="#9a5e30" stroke="#4a3322" stroke-width="0.4"/><rect x="123.4" y="104.1" width="2.2" height="11" rx="1" fill="#9a5e30" stroke="#4a3322" stroke-width="0.4"/>
<rect x="136.5" y="101.1" width="13" height="17" rx="2" fill="none" stroke="#4a3322" stroke-width="0.6"/><rect x="139.4" y="104.1" width="2.2" height="11" rx="1" fill="#9a5e30" stroke="#4a3322" stroke-width="0.4"/><rect x="144.4" y="104.1" width="2.2" height="11" rx="1" fill="#9a5e30" stroke="#4a3322" stroke-width="0.4"/>
<rect x="115.5" y="128.5" width="13" height="17" rx="2" fill="none" stroke="#4a3322" stroke-width="0.6"/><rect x="118.4" y="131.5" width="2.2" height="11" rx="1" fill="#9a5e30" stroke="#4a3322" stroke-width="0.4"/><rect x="123.4" y="131.5" width="2.2" height="11" rx="1" fill="#9a5e30" stroke="#4a3322" stroke-width="0.4"/>
<rect x="148.9" y="128.5" width="13" height="17" rx="2" fill="none" stroke="#4a3322" stroke-width="0.6"/><rect x="151.8" y="131.5" width="2.2" height="11" rx="1" fill="#9a5e30" stroke="#4a3322" stroke-width="0.4"/><rect x="156.8" y="131.5" width="2.2" height="11" rx="1" fill="#9a5e30" stroke="#4a3322" stroke-width="0.4"/>
<rect x="175.5" y="101.1" width="13" height="17" rx="2" fill="none" stroke="#4a3322" stroke-width="0.6"/><rect x="178.4" y="104.1" width="2.2" height="11" rx="1" fill="#9a5e30" stroke="#4a3322" stroke-width="0.4"/><rect x="183.4" y="104.1" width="2.2" height="11" rx="1" fill="#9a5e30" stroke="#4a3322" stroke-width="0.4"/>
<rect x="175.5" y="128.5" width="13" height="17" rx="2" fill="none" stroke="#4a3322" stroke-width="0.6"/><rect x="178.4" y="131.5" width="2.2" height="11" rx="1" fill="#9a5e30" stroke="#4a3322" stroke-width="0.4"/><rect x="183.4" y="131.5" width="2.2" height="11" rx="1" fill="#9a5e30" stroke="#4a3322" stroke-width="0.4"/>
<rect x="85.6" y="101.5" width="2" height="8" rx="1" fill="none" stroke="#4a3322" stroke-width="0.5"/>
<rect x="90.5" y="101.5" width="2" height="8" rx="1" fill="none" stroke="#4a3322" stroke-width="0.5"/>
<rect x="85.6" y="111" width="2" height="9" rx="1" fill="none" stroke="#4a3322" stroke-width="0.5"/>
<rect x="90.5" y="111" width="2" height="9" rx="1" fill="none" stroke="#4a3322" stroke-width="0.5"/>
<rect x="85.6" y="131" width="2" height="9" rx="1" fill="none" stroke="#4a3322" stroke-width="0.5"/>
<rect x="90.5" y="131" width="2" height="9" rx="1" fill="none" stroke="#4a3322" stroke-width="0.5"/>
<rect x="85.6" y="144" width="2" height="6" rx="1" fill="none" stroke="#4a3322" stroke-width="0.5"/>
<rect x="90.5" y="144" width="2" height="6" rx="1" fill="none" stroke="#4a3322" stroke-width="0.5"/>
<path d="M81.2,123.8 L162,123.8 M106.3,93 L106.3,154 M106.3,100.5 C116,96 128,89 135.5,82.7 C141,78 145,74 148.5,68.5" fill="none" stroke="#4a3322" stroke-width="0.6"/>
<rect x="274.5" y="113" width="11.5" height="7.5" fill="none" stroke="#4a3322" stroke-width="0.5"/>
<rect x="311" y="140" width="12" height="7" fill="none" stroke="#4a3322" stroke-width="0.5"/>
<rect x="210.5" y="111.5" width="6" height="9.5" fill="none" stroke="#4a3322" stroke-width="0.5"/>
<rect x="204.5" y="96" width="4.6" height="13.5" rx="2.3" fill="#3a3a3a" stroke="#222" stroke-width="0.4"/>
<rect x="188.5" y="127.5" width="5.5" height="9.5" fill="#f1e9d8" stroke="#4a3322" stroke-width="0.4"/>
<rect x="186" y="68" width="16.5" height="5.5" fill="none" stroke="#4a3322" stroke-width="0.5"/>
<rect x="190.5" y="74.5" width="6.5" height="11" fill="none" stroke="#4a3322" stroke-width="0.5"/>
<circle cx="160" cy="89" r="2.6" fill="none" stroke="#4a3322" stroke-width="0.5"/><circle cx="160" cy="89" r="1.1" fill="none" stroke="#4a3322" stroke-width="0.4"/>
<circle cx="185.5" cy="89.5" r="2.6" fill="none" stroke="#4a3322" stroke-width="0.5"/><circle cx="185.5" cy="89.5" r="1.1" fill="none" stroke="#4a3322" stroke-width="0.4"/>
<circle cx="212" cy="89.5" r="2.6" fill="none" stroke="#4a3322" stroke-width="0.5"/><circle cx="212" cy="89.5" r="1.1" fill="none" stroke="#4a3322" stroke-width="0.4"/>
<circle cx="295" cy="100.5" r="2.6" fill="none" stroke="#4a3322" stroke-width="0.5"/><circle cx="295" cy="100.5" r="1.1" fill="none" stroke="#4a3322" stroke-width="0.4"/>
<circle cx="449" cy="130.5" r="4.6" fill="none" stroke="#4a3322" stroke-width="0.5"/>
<rect x="500" y="127" width="11" height="5" rx="2.5" fill="none" stroke="#4a3322" stroke-width="0.5"/>
<path d="M521.8,118 L521.8,136" fill="none" stroke="#4a3322" stroke-width="0.5"/>
<path d="M481.8,146.5 L497,160.2 L508,161.3 L508,163.2 L496,162.6 L479.5,148 Z" fill="#DDA070" stroke="#9a6a45" stroke-width="0.4"/>
<path d="M463.6,142.7 C464,146 466,147.5 469,147.5 L489,147.5 L521.8,136.4 L478,139.5 Z" fill="#C6DDE3" stroke="#66757a" stroke-width="0.5"/>
<path d="M478.5,139.5 L478.5,147.3" stroke="#66757a" stroke-width="0.4" fill="none"/>
<path d="M527,86 L557,86.5 M530,108 L557,108.5" stroke="#7a4a28" stroke-width="0.8" fill="none"/>
<path d="M447,116 L520,109.5" stroke="#3a3028" stroke-width="0.7" fill="none"/>
<rect x="446.5" y="114.8" width="3.5" height="2.2" fill="#222"/>
<path d="M503,119 L520,87" stroke="#a0663a" stroke-width="1.2" fill="none"/>
<path d="M441,120.6 C460,118.3 520,118.8 547,120.3 C520,122.2 470,123 441,120.6 Z" fill="#71781D" stroke="#3a3a30" stroke-width="0.5"/>
<path d="M441,120.8 C455,122.8 480,122.8 492,121.4 C475,121 455,120.6 441,120.8 Z" fill="#C6DDE3" stroke="#66757a" stroke-width="0.3"/>
<g transform="translate(338.7,118.9) scale(22.25)"><path d="M -0.34,-1 L 0.34,-1 Q 0.235,-0.6 0.21,-0.21 Q 0.6,-0.235 1,-0.34 L 1,0.34 Q 0.6,0.235 0.21,0.21 Q 0.235,0.6 0.34,1 L -0.34,1 Q -0.235,0.6 -0.21,0.21 Q -0.6,0.235 -1,0.34 L -1,-0.34 Q -0.6,-0.235 -0.21,-0.21 Q -0.235,-0.6 -0.34,-1 Z" fill="#fff" stroke="#fff" stroke-width="0.1978" stroke-linejoin="miter"/><path d="M -0.34,-1 L 0.34,-1 Q 0.235,-0.6 0.21,-0.21 Q 0.6,-0.235 1,-0.34 L 1,0.34 Q 0.6,0.235 0.21,0.21 Q 0.235,0.6 0.34,1 L -0.34,1 Q -0.235,0.6 -0.21,0.21 Q -0.6,0.235 -1,0.34 L -1,-0.34 Q -0.6,-0.235 -0.21,-0.21 Q -0.235,-0.6 -0.34,-1 Z" fill="#2b2a29"/></g>
<path d="M369.30,116.00 L378.50,101.50 L387.70,101.50 L387.70,146.60 L374.60,146.60 L374.60,143.60 L376.50,143.60 L376.50,113.50 L371.60,120.60 Z" fill="#fff"/><path d="M391.80,105.10 Q391.80,101.50 395.40,101.50 L417.30,101.50 Q420.90,101.50 420.90,105.10 L420.90,143.00 Q420.90,146.60 417.30,146.60 L395.40,146.60 Q391.80,146.60 391.80,143.00 Z" fill="#fff"/><path d="M399.80,109.50 L413.30,109.50 L413.30,137.90 L399.80,137.90 Z" fill="#1d1d1b"/>
<g transform="translate(530.2,101.8) scale(21.4)"><path d="M -0.34,-1 L 0.34,-1 Q 0.235,-0.6 0.21,-0.21 Q 0.6,-0.235 1,-0.34 L 1,0.34 Q 0.6,0.235 0.21,0.21 Q 0.235,0.6 0.34,1 L -0.34,1 Q -0.235,0.6 -0.21,0.21 Q -0.6,0.235 -1,0.34 L -1,-0.34 Q -0.6,-0.235 -0.21,-0.21 Q -0.235,-0.6 -0.34,-1 Z" fill="#fff" stroke="#fff" stroke-width="0.2150" stroke-linejoin="miter"/><path d="M -0.34,-1 L 0.34,-1 Q 0.235,-0.6 0.21,-0.21 Q 0.6,-0.235 1,-0.34 L 1,0.34 Q 0.6,0.235 0.21,0.21 Q 0.235,0.6 0.34,1 L -0.34,1 Q -0.235,0.6 -0.21,0.21 Q -0.6,0.235 -1,0.34 L -1,-0.34 Q -0.6,-0.235 -0.21,-0.21 Q -0.235,-0.6 -0.34,-1 Z" fill="#2b2a29"/></g>
<path d="M160.2,59.5 L160.9,153 M164.7,59.5 L165.4,153 M169.2,59.5 L169.9,153 M207.8,59.5 L209.4,153 M211.6,59.5 L213,153 M221.3,59.5 L221.8,153 M224.4,59.5 L224.8,153 M227.5,59.5 L227.6,153 M165.6,61 L213,150 M223,62 L168,152" stroke="#4a3322" stroke-width="0.55" fill="none"/>
<path d="M154,156.3 C156,153.5 158,152.5 159,152 C164,150 168,149.3 173.6,149 L202.7,149 C212,149.6 222,151 231.8,152.6 L263.8,156.3" fill="none" stroke="#4a3322" stroke-width="0.5"/>
<path d="M154,156.6 C160,153.2 168,151.3 176,151 C195,150.6 228,154.3 263.6,158.6 L263,160.2 C240,157 205,154.2 186,154.4 C172,154.6 160,156 153,158 Z" fill="#B36E3C" stroke="#4a3322" stroke-width="0.4"/>
<path d="M153.6,156.5 C162,154.6 175,154.4 188,154.8 C205,155.2 220,156.4 231.8,157.7 L263,160 L261,164.7 L231.8,161.4 C215,159.6 200,158.4 188,158.2 C172,158.2 160,158.8 151.8,159.3 Z" fill="#C6DDE3" stroke="#66757a" stroke-width="0.4"/>
<path d="M153.4,58.5 C156,55.5 161,53 167.4,51.2 C171,50.4 176,50.3 180,50.6 L216.4,55.4 L229,59.6 L261.5,66.2 L259,68.4 L229,64 L203.6,59.4 L178.2,58 L159,59.8 Z" fill="#B36E3C" stroke="#4a3322" stroke-width="0.5"/>
<path d="M153.4,58.5 C160,56.6 170,56 180,56 C196,56 214,58.3 229,61 L261.5,66.2 L259,68.4 L229,64 L203.6,59.4 L178.2,58 L159,59.8 Z" fill="#C6DDE3" stroke="#66757a" stroke-width="0.4"/>
<path d="M166.3,51.3 C166,46 168.5,44 171.2,44 C174.5,44 177,46.5 177,50.6 Z" fill="#B36E3C" stroke="#4a3322" stroke-width="0.5"/>
<path d="M216,55.2 C216.5,52.8 218,52 219.5,52 C221.5,52 223.3,53.5 223.8,56.5" fill="none" stroke="#4a3322" stroke-width="0.8"/>
<path d="M152.2,50.2 L157,50.2 L157,51.8 L156.4,51.8 L157.5,56 L156.5,56 L155.2,51.8 L152.2,51.8 Z" fill="#555" stroke="#333" stroke-width="0.3"/>
<path d="M157,50.5 L166,44.5" stroke="#999" stroke-width="0.4"/>
<path d="M140.8,151.3 L144.6,150.7 L149.3,195.5 L145.6,196 Z" fill="#B36E3C" stroke="#4a3322" stroke-width="0.5"/>
<path d="M240.5,150 L244.3,152.6 L182.3,208.7 L179,205.5 Z" fill="#B36E3C" stroke="#4a3322" stroke-width="0.5"/>
<circle cx="156.4" cy="220.5" r="25.4" fill="#777777"/>
<circle cx="156.4" cy="220.5" r="19.3" fill="#B36E3C"/>
<circle cx="156.4" cy="220.5" r="2.6" fill="#9aa" stroke="#555" stroke-width="0.5"/><circle cx="156.4" cy="220.5" r="0.9" fill="#222"/>
<circle cx="166.7" cy="208.2" r="3" fill="#222"/>
</g>
<g transform="translate(678,154.5) scale(-0.539,0.535) translate(-60,-28.2)">
<clipPath id="fc4"><path d="M81.2,100.6 L105.1,93.5 L114.9,88 L121.5,82.5 C122.5,80 123.5,78 124.7,76.5 C126,74.8 127.5,73.8 129.1,73.3 C133,72 137,71.3 140,71 L148,69 C150,66 152,62 153.6,59.5 L178,57 L204,59 L227,63.6 C229,70 232,76 236.4,79 C243,84 250,86 258,86.8 C268,87.5 277,86.5 281.8,84.5 L290,81 L473.6,105.5 L481.8,99 L500,73.6 Q503.5,68.2 510,68.2 L548,68.2 Q557.3,68.2 557.3,77.5 L557.3,108 C557.3,122 552,131 538,133.6 L521.8,135.5 L521.8,136.4 L489,144 L463,144.5 L419,148 L400,149 L333,153.5 L283.6,158 L262,158.7 L152,159 L142,158.7 L131.4,157.6 L106.3,154.4 L81.2,149.5 Z"/></clipPath>
<path d="M74.6,28 C76.5,32 79.6,55 80.2,80 L80.3,104.6 L80.5,146 L80.8,170 C80.5,190 78.5,210 76.3,219.5 Q75.4,221.5 74.8,219.5 C74,205 73.5,180 73.3,144.4 L72.8,104.6 L72.6,80 C72.6,55 73.5,35 74.6,28 Z" fill="#C5824A" stroke="#8a5a33" stroke-width="0.5"/>
<rect x="88.2" y="79.8" width="38" height="12.3" rx="2" fill="#fff" stroke="#1d1d1b" stroke-width="1.5"/>
<rect x="92" y="83.1" width="30" height="4.4" fill="#a5a5a5"/>
<path d="M93.5,83.1 L93.5,87.5 M96,83.1 L96,87.5 M98.5,83.1 L98.5,87.5 M101,83.1 L101,87.5 M103.5,83.1 L103.5,87.5 M106,83.1 L106,87.5 M108.5,83.1 L108.5,87.5 M111,83.1 L111,87.5 M113.5,83.1 L113.5,87.5 M116,83.1 L116,87.5" stroke="#555" stroke-width="0.8" fill="none"/>
<rect x="92.3" y="88" width="30" height="10" fill="#454545"/>
<path d="M95,89.5 L112,89.5" stroke="#999" stroke-width="0.8"/>
<g clip-path="url(#fc4)">
<rect x="55" y="40" width="510" height="130" fill="#B36E3C"/>
<path d="M231.6,60 L303.6,83 C303,100 297,115 291,128 C286,140 284,148 283.6,160 L205,160 L205.5,149 L211.3,130 L231.6,75.7 Z" fill="#71781D"/>
<path d="M81.2,137.5 L106.3,145.6 L131.4,152.2 L142.3,154.4 L153,155.5 L262,156.3 L283.6,154.5 L333,150 L400,142.7 L419,141 L469,137.3 L521.8,135.5 L560,135 L560,170 L70,170 L70,137.5 Z" fill="#C6DDE3"/>
<rect x="406.9" y="60" width="12.6" height="110" fill="#fff"/>
<rect x="406.9" y="141.6" width="12.6" height="20" fill="#1d1d1b"/>
</g>
<path d="M81.2,100.6 L105.1,93.5 L114.9,88 L121.5,82.5 C122.5,80 123.5,78 124.7,76.5 C126,74.8 127.5,73.8 129.1,73.3 C133,72 137,71.3 140,71 L148,69 C150,66 152,62 153.6,59.5 L178,57 L204,59 L227,63.6 C229,70 232,76 236.4,79 C243,84 250,86 258,86.8 C268,87.5 277,86.5 281.8,84.5 L290,81 L473.6,105.5 L481.8,99 L500,73.6 Q503.5,68.2 510,68.2 L548,68.2 Q557.3,68.2 557.3,77.5 L557.3,108 C557.3,122 552,131 538,133.6 L521.8,135.5 L521.8,136.4 L489,144 L463,144.5 L419,148 L400,149 L333,153.5 L283.6,158 L262,158.7 L152,159 L142,158.7 L131.4,157.6 L106.3,154.4 L81.2,149.5 Z" fill="none" stroke="#4a3322" stroke-width="0.6"/>
<path d="M229,68 C231,74 233,77 236.4,79.5 C243,84.5 250,86.5 258,87.3 C268,88 277,87 281.8,85 L289,81.6" fill="none" stroke="#4d4a40" stroke-width="1.4"/>
<path d="M81.2,100.6 C67,102.5 60,113 60,124 C60,136 66,146.5 81.2,149.5 Z" fill="#ffffff" stroke="#777" stroke-width="0.6"/>
<rect x="115.5" y="101.1" width="13" height="17" rx="2" fill="none" stroke="#4a3322" stroke-width="0.6"/><rect x="118.4" y="104.1" width="2.2" height="11" rx="1" fill="#9a5e30" stroke="#4a3322" stroke-width="0.4"/><rect x="123.4" y="104.1" width="2.2" height="11" rx="1" fill="#9a5e30" stroke="#4a3322" stroke-width="0.4"/>
<rect x="136.5" y="101.1" width="13" height="17" rx="2" fill="none" stroke="#4a3322" stroke-width="0.6"/><rect x="139.4" y="104.1" width="2.2" height="11" rx="1" fill="#9a5e30" stroke="#4a3322" stroke-width="0.4"/><rect x="144.4" y="104.1" width="2.2" height="11" rx="1" fill="#9a5e30" stroke="#4a3322" stroke-width="0.4"/>
<rect x="115.5" y="128.5" width="13" height="17" rx="2" fill="none" stroke="#4a3322" stroke-width="0.6"/><rect x="118.4" y="131.5" width="2.2" height="11" rx="1" fill="#9a5e30" stroke="#4a3322" stroke-width="0.4"/><rect x="123.4" y="131.5" width="2.2" height="11" rx="1" fill="#9a5e30" stroke="#4a3322" stroke-width="0.4"/>
<rect x="148.9" y="128.5" width="13" height="17" rx="2" fill="none" stroke="#4a3322" stroke-width="0.6"/><rect x="151.8" y="131.5" width="2.2" height="11" rx="1" fill="#9a5e30" stroke="#4a3322" stroke-width="0.4"/><rect x="156.8" y="131.5" width="2.2" height="11" rx="1" fill="#9a5e30" stroke="#4a3322" stroke-width="0.4"/>
<rect x="175.5" y="101.1" width="13" height="17" rx="2" fill="none" stroke="#4a3322" stroke-width="0.6"/><rect x="178.4" y="104.1" width="2.2" height="11" rx="1" fill="#9a5e30" stroke="#4a3322" stroke-width="0.4"/><rect x="183.4" y="104.1" width="2.2" height="11" rx="1" fill="#9a5e30" stroke="#4a3322" stroke-width="0.4"/>
<rect x="175.5" y="128.5" width="13" height="17" rx="2" fill="none" stroke="#4a3322" stroke-width="0.6"/><rect x="178.4" y="131.5" width="2.2" height="11" rx="1" fill="#9a5e30" stroke="#4a3322" stroke-width="0.4"/><rect x="183.4" y="131.5" width="2.2" height="11" rx="1" fill="#9a5e30" stroke="#4a3322" stroke-width="0.4"/>
<rect x="85.6" y="101.5" width="2" height="8" rx="1" fill="none" stroke="#4a3322" stroke-width="0.5"/>
<rect x="90.5" y="101.5" width="2" height="8" rx="1" fill="none" stroke="#4a3322" stroke-width="0.5"/>
<rect x="85.6" y="111" width="2" height="9" rx="1" fill="none" stroke="#4a3322" stroke-width="0.5"/>
<rect x="90.5" y="111" width="2" height="9" rx="1" fill="none" stroke="#4a3322" stroke-width="0.5"/>
<rect x="85.6" y="131" width="2" height="9" rx="1" fill="none" stroke="#4a3322" stroke-width="0.5"/>
<rect x="90.5" y="131" width="2" height="9" rx="1" fill="none" stroke="#4a3322" stroke-width="0.5"/>
<rect x="85.6" y="144" width="2" height="6" rx="1" fill="none" stroke="#4a3322" stroke-width="0.5"/>
<rect x="90.5" y="144" width="2" height="6" rx="1" fill="none" stroke="#4a3322" stroke-width="0.5"/>
<path d="M81.2,123.8 L162,123.8 M106.3,93 L106.3,154 M106.3,100.5 C116,96 128,89 135.5,82.7 C141,78 145,74 148.5,68.5" fill="none" stroke="#4a3322" stroke-width="0.6"/>
<path d="M132.2,91 L117.9,91 L114.9,96.8 L123.6,102.6 L130.9,117.2 L135.7,117.2 L133.7,101.1 Z" fill="#8c8783" stroke="#555" stroke-width="0.6"/>
<rect x="274.5" y="113" width="11.5" height="7.5" fill="none" stroke="#4a3322" stroke-width="0.5"/>
<rect x="311" y="140" width="12" height="7" fill="none" stroke="#4a3322" stroke-width="0.5"/>
<rect x="210.5" y="111.5" width="6" height="9.5" fill="none" stroke="#4a3322" stroke-width="0.5"/>
<rect x="204.5" y="96" width="4.6" height="13.5" rx="2.3" fill="#3a3a3a" stroke="#222" stroke-width="0.4"/>
<rect x="188.5" y="127.5" width="5.5" height="9.5" fill="#f1e9d8" stroke="#4a3322" stroke-width="0.4"/>
<rect x="186" y="68" width="16.5" height="5.5" fill="none" stroke="#4a3322" stroke-width="0.5"/>
<rect x="190.5" y="74.5" width="6.5" height="11" fill="none" stroke="#4a3322" stroke-width="0.5"/>
<circle cx="160" cy="89" r="2.6" fill="none" stroke="#4a3322" stroke-width="0.5"/><circle cx="160" cy="89" r="1.1" fill="none" stroke="#4a3322" stroke-width="0.4"/>
<circle cx="185.5" cy="89.5" r="2.6" fill="none" stroke="#4a3322" stroke-width="0.5"/><circle cx="185.5" cy="89.5" r="1.1" fill="none" stroke="#4a3322" stroke-width="0.4"/>
<circle cx="212" cy="89.5" r="2.6" fill="none" stroke="#4a3322" stroke-width="0.5"/><circle cx="212" cy="89.5" r="1.1" fill="none" stroke="#4a3322" stroke-width="0.4"/>
<circle cx="295" cy="100.5" r="2.6" fill="none" stroke="#4a3322" stroke-width="0.5"/><circle cx="295" cy="100.5" r="1.1" fill="none" stroke="#4a3322" stroke-width="0.4"/>
<circle cx="449" cy="130.5" r="4.6" fill="none" stroke="#4a3322" stroke-width="0.5"/>
<rect x="500" y="127" width="11" height="5" rx="2.5" fill="none" stroke="#4a3322" stroke-width="0.5"/>
<path d="M521.8,118 L521.8,136" fill="none" stroke="#4a3322" stroke-width="0.5"/>
<path d="M481.8,146.5 L497,160.2 L508,161.3 L508,163.2 L496,162.6 L479.5,148 Z" fill="#DDA070" stroke="#9a6a45" stroke-width="0.4"/>
<path d="M463.6,142.7 C464,146 466,147.5 469,147.5 L489,147.5 L521.8,136.4 L478,139.5 Z" fill="#C6DDE3" stroke="#66757a" stroke-width="0.5"/>
<path d="M478.5,139.5 L478.5,147.3" stroke="#66757a" stroke-width="0.4" fill="none"/>
<path d="M527,86 L557,86.5 M530,108 L557,108.5" stroke="#7a4a28" stroke-width="0.8" fill="none"/>
<path d="M447,116 L520,109.5" stroke="#3a3028" stroke-width="0.7" fill="none"/>
<rect x="446.5" y="114.8" width="3.5" height="2.2" fill="#222"/>
<path d="M503,119 L520,87" stroke="#a0663a" stroke-width="1.2" fill="none"/>
<path d="M441,120.6 C460,118.3 520,118.8 547,120.3 C520,122.2 470,123 441,120.6 Z" fill="#71781D" stroke="#3a3a30" stroke-width="0.5"/>
<path d="M441,120.8 C455,122.8 480,122.8 492,121.4 C475,121 455,120.6 441,120.8 Z" fill="#C6DDE3" stroke="#66757a" stroke-width="0.3"/>
<g transform="translate(332.9,118.3) scale(22.5)"><path d="M -0.34,-1 L 0.34,-1 Q 0.235,-0.6 0.21,-0.21 Q 0.6,-0.235 1,-0.34 L 1,0.34 Q 0.6,0.235 0.21,0.21 Q 0.235,0.6 0.34,1 L -0.34,1 Q -0.235,0.6 -0.21,0.21 Q -0.6,0.235 -1,0.34 L -1,-0.34 Q -0.6,-0.235 -0.21,-0.21 Q -0.235,-0.6 -0.34,-1 Z" fill="#fff" stroke="#fff" stroke-width="0.2133" stroke-linejoin="miter"/><path d="M -0.34,-1 L 0.34,-1 Q 0.235,-0.6 0.21,-0.21 Q 0.6,-0.235 1,-0.34 L 1,0.34 Q 0.6,0.235 0.21,0.21 Q 0.235,0.6 0.34,1 L -0.34,1 Q -0.235,0.6 -0.21,0.21 Q -0.6,0.235 -1,0.34 L -1,-0.34 Q -0.6,-0.235 -0.21,-0.21 Q -0.235,-0.6 -0.34,-1 Z" fill="#2b2a29"/></g>
<g transform="translate(764.5,0) scale(-1,1)"><text x="359.5" y="121.5" font-family="'Liberation Serif', serif" font-size="7.6" font-weight="bold" fill="#3a2a1c" textLength="42" lengthAdjust="spacingAndGlyphs">D IIa  2876</text><text x="401" y="123.5" font-family="'Liberation Serif', serif" font-size="3.5" font-weight="bold" fill="#3a2a1c">/16</text></g>
<g transform="translate(529.6,101) scale(21.4)"><path d="M -0.34,-1 L 0.34,-1 Q 0.235,-0.6 0.21,-0.21 Q 0.6,-0.235 1,-0.34 L 1,0.34 Q 0.6,0.235 0.21,0.21 Q 0.235,0.6 0.34,1 L -0.34,1 Q -0.235,0.6 -0.21,0.21 Q -0.6,0.235 -1,0.34 L -1,-0.34 Q -0.6,-0.235 -0.21,-0.21 Q -0.235,-0.6 -0.34,-1 Z" fill="#fff" stroke="#fff" stroke-width="0.2150" stroke-linejoin="miter"/><path d="M -0.34,-1 L 0.34,-1 Q 0.235,-0.6 0.21,-0.21 Q 0.6,-0.235 1,-0.34 L 1,0.34 Q 0.6,0.235 0.21,0.21 Q 0.235,0.6 0.34,1 L -0.34,1 Q -0.235,0.6 -0.21,0.21 Q -0.6,0.235 -1,0.34 L -1,-0.34 Q -0.6,-0.235 -0.21,-0.21 Q -0.235,-0.6 -0.34,-1 Z" fill="#2b2a29"/></g>
<path d="M160.2,59.5 L160.9,153 M164.7,59.5 L165.4,153 M169.2,59.5 L169.9,153 M207.8,59.5 L209.4,153 M211.6,59.5 L213,153 M221.3,59.5 L221.8,153 M224.4,59.5 L224.8,153 M227.5,59.5 L227.6,153 M165.6,61 L213,150 M223,62 L168,152" stroke="#4a3322" stroke-width="0.55" fill="none"/>
<path d="M154,156.3 C156,153.5 158,152.5 159,152 C164,150 168,149.3 173.6,149 L202.7,149 C212,149.6 222,151 231.8,152.6 L263.8,156.3" fill="none" stroke="#4a3322" stroke-width="0.5"/>
<path d="M154,156.6 C160,153.2 168,151.3 176,151 C195,150.6 228,154.3 263.6,158.6 L263,160.2 C240,157 205,154.2 186,154.4 C172,154.6 160,156 153,158 Z" fill="#B36E3C" stroke="#4a3322" stroke-width="0.4"/>
<path d="M153.6,156.5 C162,154.6 175,154.4 188,154.8 C205,155.2 220,156.4 231.8,157.7 L263,160 L261,164.7 L231.8,161.4 C215,159.6 200,158.4 188,158.2 C172,158.2 160,158.8 151.8,159.3 Z" fill="#C6DDE3" stroke="#66757a" stroke-width="0.4"/>
<path d="M153.4,58.5 C156,55.5 161,53 167.4,51.2 C171,50.4 176,50.3 180,50.6 L216.4,55.4 L229,59.6 L261.5,66.2 L259,68.4 L229,64 L203.6,59.4 L178.2,58 L159,59.8 Z" fill="#B36E3C" stroke="#4a3322" stroke-width="0.5"/>
<path d="M153.4,58.5 C160,56.6 170,56 180,56 C196,56 214,58.3 229,61 L261.5,66.2 L259,68.4 L229,64 L203.6,59.4 L178.2,58 L159,59.8 Z" fill="#C6DDE3" stroke="#66757a" stroke-width="0.4"/>
<path d="M166.3,51.3 C166,46 168.5,44 171.2,44 C174.5,44 177,46.5 177,50.6 Z" fill="#B36E3C" stroke="#4a3322" stroke-width="0.5"/>
<path d="M216,55.2 C216.5,52.8 218,52 219.5,52 C221.5,52 223.3,53.5 223.8,56.5" fill="none" stroke="#4a3322" stroke-width="0.8"/>
<path d="M152.2,50.2 L157,50.2 L157,51.8 L156.4,51.8 L157.5,56 L156.5,56 L155.2,51.8 L152.2,51.8 Z" fill="#555" stroke="#333" stroke-width="0.3"/>
<path d="M157,50.5 L166,44.5" stroke="#999" stroke-width="0.4"/>
<path d="M140.8,151.3 L144.6,150.7 L149.3,195.5 L145.6,196 Z" fill="#C6DDE3" stroke="#6d7c80" stroke-width="0.5"/>
<path d="M240.5,150 L244.3,152.6 L182.3,208.7 L179,205.5 Z" fill="#C6DDE3" stroke="#6d7c80" stroke-width="0.5"/>
<circle cx="156.4" cy="220.5" r="25.4" fill="#777777"/>
<circle cx="156.4" cy="220.5" r="19.3" fill="#B36E3C"/>
<circle cx="156.4" cy="220.5" r="2.6" fill="#9aa" stroke="#555" stroke-width="0.5"/><circle cx="156.4" cy="220.5" r="0.9" fill="#222"/>
<circle cx="166.7" cy="208.2" r="3" fill="#222"/>
</g>
<g transform="translate(678,388.6) scale(-0.539,0.535) translate(-60,-28.2)">
<clipPath id="fc5"><path d="M81.2,100.6 L105.1,93.5 L114.9,88 L121.5,82.5 C122.5,80 123.5,78 124.7,76.5 C126,74.8 127.5,73.8 129.1,73.3 C133,72 137,71.3 140,71 L148,69 C150,66 152,62 153.6,59.5 L178,57 L204,59 L227,63.6 C229,70 232,76 236.4,79 C243,84 250,86 258,86.8 C268,87.5 277,86.5 281.8,84.5 L290,81 L473.6,105.5 L481.8,99 L500,73.6 Q503.5,68.2 510,68.2 L548,68.2 Q557.3,68.2 557.3,77.5 L557.3,108 C557.3,122 552,131 538,133.6 L521.8,135.5 L521.8,136.4 L489,144 L463,144.5 L419,148 L400,149 L333,153.5 L283.6,158 L262,158.7 L152,159 L142,158.7 L131.4,157.6 L106.3,154.4 L81.2,149.5 Z"/></clipPath>
<path d="M74.6,28 C76.5,32 79.6,55 80.2,80 L80.3,104.6 L80.5,146 L80.8,170 C80.5,190 78.5,210 76.3,219.5 Q75.4,221.5 74.8,219.5 C74,205 73.5,180 73.3,144.4 L72.8,104.6 L72.6,80 C72.6,55 73.5,35 74.6,28 Z" fill="#C5824A" stroke="#8a5a33" stroke-width="0.5"/>
<rect x="88.2" y="79.8" width="38" height="12.3" rx="2" fill="#fff" stroke="#1d1d1b" stroke-width="1.5"/>
<rect x="92" y="83.1" width="30" height="4.4" fill="#a5a5a5"/>
<path d="M93.5,83.1 L93.5,87.5 M96,83.1 L96,87.5 M98.5,83.1 L98.5,87.5 M101,83.1 L101,87.5 M103.5,83.1 L103.5,87.5 M106,83.1 L106,87.5 M108.5,83.1 L108.5,87.5 M111,83.1 L111,87.5 M113.5,83.1 L113.5,87.5 M116,83.1 L116,87.5" stroke="#555" stroke-width="0.8" fill="none"/>
<rect x="92.3" y="88" width="30" height="10" fill="#454545"/>
<path d="M95,89.5 L112,89.5" stroke="#999" stroke-width="0.8"/>
<g clip-path="url(#fc5)">
<rect x="55" y="40" width="510" height="130" fill="#B36E3C"/>
<path d="M297.5,70 L402.5,70 L402,160 L313,160 L312,150 C309,142 303,135 301,126 C299,116 301,108 298.5,100 C297,92 297.5,85 297.5,70 Z" fill="#71781D"/>
<path d="M70,130.9 L106.3,130.9 L106.3,151.1 L150,155.4 L153,155.6 L262,156.3 L283.6,154.5 L333,150 L400,142.7 L419,141 L469,137.3 L521.8,135.5 L560,135 L560,170 L70,170 Z" fill="#C6DDE3"/>
</g>
<path d="M81.2,100.6 L105.1,93.5 L114.9,88 L121.5,82.5 C122.5,80 123.5,78 124.7,76.5 C126,74.8 127.5,73.8 129.1,73.3 C133,72 137,71.3 140,71 L148,69 C150,66 152,62 153.6,59.5 L178,57 L204,59 L227,63.6 C229,70 232,76 236.4,79 C243,84 250,86 258,86.8 C268,87.5 277,86.5 281.8,84.5 L290,81 L473.6,105.5 L481.8,99 L500,73.6 Q503.5,68.2 510,68.2 L548,68.2 Q557.3,68.2 557.3,77.5 L557.3,108 C557.3,122 552,131 538,133.6 L521.8,135.5 L521.8,136.4 L489,144 L463,144.5 L419,148 L400,149 L333,153.5 L283.6,158 L262,158.7 L152,159 L142,158.7 L131.4,157.6 L106.3,154.4 L81.2,149.5 Z" fill="none" stroke="#4a3322" stroke-width="0.6"/>
<path d="M229,68 C231,74 233,77 236.4,79.5 C243,84.5 250,86.5 258,87.3 C268,88 277,87 281.8,85 L289,81.6" fill="none" stroke="#4d4a40" stroke-width="1.4"/>
<path d="M81.2,100.6 C67,102.5 60,113 60,124 C60,136 66,146.5 81.2,149.5 Z" fill="#ffffff" stroke="#777" stroke-width="0.6"/>
<rect x="115.5" y="101.1" width="13" height="17" rx="2" fill="none" stroke="#4a3322" stroke-width="0.6"/><rect x="118.4" y="104.1" width="2.2" height="11" rx="1" fill="#9a5e30" stroke="#4a3322" stroke-width="0.4"/><rect x="123.4" y="104.1" width="2.2" height="11" rx="1" fill="#9a5e30" stroke="#4a3322" stroke-width="0.4"/>
<rect x="136.5" y="101.1" width="13" height="17" rx="2" fill="none" stroke="#4a3322" stroke-width="0.6"/><rect x="139.4" y="104.1" width="2.2" height="11" rx="1" fill="#9a5e30" stroke="#4a3322" stroke-width="0.4"/><rect x="144.4" y="104.1" width="2.2" height="11" rx="1" fill="#9a5e30" stroke="#4a3322" stroke-width="0.4"/>
<rect x="115.5" y="128.5" width="13" height="17" rx="2" fill="none" stroke="#4a3322" stroke-width="0.6"/><rect x="118.4" y="131.5" width="2.2" height="11" rx="1" fill="#9a5e30" stroke="#4a3322" stroke-width="0.4"/><rect x="123.4" y="131.5" width="2.2" height="11" rx="1" fill="#9a5e30" stroke="#4a3322" stroke-width="0.4"/>
<rect x="148.9" y="128.5" width="13" height="17" rx="2" fill="none" stroke="#4a3322" stroke-width="0.6"/><rect x="151.8" y="131.5" width="2.2" height="11" rx="1" fill="#9a5e30" stroke="#4a3322" stroke-width="0.4"/><rect x="156.8" y="131.5" width="2.2" height="11" rx="1" fill="#9a5e30" stroke="#4a3322" stroke-width="0.4"/>
<rect x="175.5" y="101.1" width="13" height="17" rx="2" fill="none" stroke="#4a3322" stroke-width="0.6"/><rect x="178.4" y="104.1" width="2.2" height="11" rx="1" fill="#9a5e30" stroke="#4a3322" stroke-width="0.4"/><rect x="183.4" y="104.1" width="2.2" height="11" rx="1" fill="#9a5e30" stroke="#4a3322" stroke-width="0.4"/>
<rect x="175.5" y="128.5" width="13" height="17" rx="2" fill="none" stroke="#4a3322" stroke-width="0.6"/><rect x="178.4" y="131.5" width="2.2" height="11" rx="1" fill="#9a5e30" stroke="#4a3322" stroke-width="0.4"/><rect x="183.4" y="131.5" width="2.2" height="11" rx="1" fill="#9a5e30" stroke="#4a3322" stroke-width="0.4"/>
<rect x="85.6" y="101.5" width="2" height="8" rx="1" fill="none" stroke="#4a3322" stroke-width="0.5"/>
<rect x="90.5" y="101.5" width="2" height="8" rx="1" fill="none" stroke="#4a3322" stroke-width="0.5"/>
<rect x="85.6" y="111" width="2" height="9" rx="1" fill="none" stroke="#4a3322" stroke-width="0.5"/>
<rect x="90.5" y="111" width="2" height="9" rx="1" fill="none" stroke="#4a3322" stroke-width="0.5"/>
<rect x="85.6" y="131" width="2" height="9" rx="1" fill="none" stroke="#4a3322" stroke-width="0.5"/>
<rect x="90.5" y="131" width="2" height="9" rx="1" fill="none" stroke="#4a3322" stroke-width="0.5"/>
<rect x="85.6" y="144" width="2" height="6" rx="1" fill="none" stroke="#4a3322" stroke-width="0.5"/>
<rect x="90.5" y="144" width="2" height="6" rx="1" fill="none" stroke="#4a3322" stroke-width="0.5"/>
<path d="M81.2,123.8 L162,123.8 M106.3,93 L106.3,154 M106.3,100.5 C116,96 128,89 135.5,82.7 C141,78 145,74 148.5,68.5" fill="none" stroke="#4a3322" stroke-width="0.6"/>
<path d="M132.2,91 L117.9,91 L114.9,96.8 L123.6,102.6 L130.9,117.2 L135.7,117.2 L133.7,101.1 Z" fill="#8c8783" stroke="#555" stroke-width="0.6"/>
<rect x="274.5" y="113" width="11.5" height="7.5" fill="none" stroke="#4a3322" stroke-width="0.5"/>
<rect x="311" y="140" width="12" height="7" fill="none" stroke="#4a3322" stroke-width="0.5"/>
<rect x="210.5" y="111.5" width="6" height="9.5" fill="none" stroke="#4a3322" stroke-width="0.5"/>
<rect x="204.5" y="96" width="4.6" height="13.5" rx="2.3" fill="#3a3a3a" stroke="#222" stroke-width="0.4"/>
<rect x="188.5" y="127.5" width="5.5" height="9.5" fill="#f1e9d8" stroke="#4a3322" stroke-width="0.4"/>
<rect x="186" y="68" width="16.5" height="5.5" fill="none" stroke="#4a3322" stroke-width="0.5"/>
<rect x="190.5" y="74.5" width="6.5" height="11" fill="none" stroke="#4a3322" stroke-width="0.5"/>
<circle cx="160" cy="89" r="2.6" fill="none" stroke="#4a3322" stroke-width="0.5"/><circle cx="160" cy="89" r="1.1" fill="none" stroke="#4a3322" stroke-width="0.4"/>
<circle cx="185.5" cy="89.5" r="2.6" fill="none" stroke="#4a3322" stroke-width="0.5"/><circle cx="185.5" cy="89.5" r="1.1" fill="none" stroke="#4a3322" stroke-width="0.4"/>
<circle cx="212" cy="89.5" r="2.6" fill="none" stroke="#4a3322" stroke-width="0.5"/><circle cx="212" cy="89.5" r="1.1" fill="none" stroke="#4a3322" stroke-width="0.4"/>
<circle cx="295" cy="100.5" r="2.6" fill="none" stroke="#4a3322" stroke-width="0.5"/><circle cx="295" cy="100.5" r="1.1" fill="none" stroke="#4a3322" stroke-width="0.4"/>
<circle cx="449" cy="130.5" r="4.6" fill="none" stroke="#4a3322" stroke-width="0.5"/>
<rect x="500" y="127" width="11" height="5" rx="2.5" fill="none" stroke="#4a3322" stroke-width="0.5"/>
<path d="M521.8,118 L521.8,136" fill="none" stroke="#4a3322" stroke-width="0.5"/>
<path d="M481.8,146.5 L497,160.2 L508,161.3 L508,163.2 L496,162.6 L479.5,148 Z" fill="#DDA070" stroke="#9a6a45" stroke-width="0.4"/>
<path d="M463.6,142.7 C464,146 466,147.5 469,147.5 L489,147.5 L521.8,136.4 L478,139.5 Z" fill="#C6DDE3" stroke="#66757a" stroke-width="0.5"/>
<path d="M478.5,139.5 L478.5,147.3" stroke="#66757a" stroke-width="0.4" fill="none"/>
<path d="M527,86 L557,86.5 M530,108 L557,108.5" stroke="#7a4a28" stroke-width="0.8" fill="none"/>
<path d="M447,116 L520,109.5" stroke="#3a3028" stroke-width="0.7" fill="none"/>
<rect x="446.5" y="114.8" width="3.5" height="2.2" fill="#222"/>
<path d="M503,119 L520,87" stroke="#a0663a" stroke-width="1.2" fill="none"/>
<path d="M441,120.6 C460,118.3 520,118.8 547,120.3 C520,122.2 470,123 441,120.6 Z" fill="#71781D" stroke="#3a3a30" stroke-width="0.5"/>
<path d="M441,120.8 C455,122.8 480,122.8 492,121.4 C475,121 455,120.6 441,120.8 Z" fill="#C6DDE3" stroke="#66757a" stroke-width="0.3"/>
<g transform="translate(336,118.6) scale(22.5)"><path d="M -0.34,-1 L 0.34,-1 Q 0.235,-0.6 0.21,-0.21 Q 0.6,-0.235 1,-0.34 L 1,0.34 Q 0.6,0.235 0.21,0.21 Q 0.235,0.6 0.34,1 L -0.34,1 Q -0.235,0.6 -0.21,0.21 Q -0.6,0.235 -1,0.34 L -1,-0.34 Q -0.6,-0.235 -0.21,-0.21 Q -0.235,-0.6 -0.34,-1 Z" fill="#fff" stroke="#fff" stroke-width="0.2133" stroke-linejoin="miter"/><path d="M -0.34,-1 L 0.34,-1 Q 0.235,-0.6 0.21,-0.21 Q 0.6,-0.235 1,-0.34 L 1,0.34 Q 0.6,0.235 0.21,0.21 Q 0.235,0.6 0.34,1 L -0.34,1 Q -0.235,0.6 -0.21,0.21 Q -0.6,0.235 -1,0.34 L -1,-0.34 Q -0.6,-0.235 -0.21,-0.21 Q -0.235,-0.6 -0.34,-1 Z" fill="#2b2a29"/></g>
<path d="M356.5,91.4 L375.4,106 L383.6,96.8 L396.9,110.3 L405.1,101.1 L422.9,114.2 L432,104.8 L445.5,117.4" fill="none" stroke="#fff" stroke-width="4" stroke-linejoin="miter" stroke-linecap="butt"/>
<g transform="translate(528.4,100.4) scale(21.4)"><path d="M -0.34,-1 L 0.34,-1 Q 0.235,-0.6 0.21,-0.21 Q 0.6,-0.235 1,-0.34 L 1,0.34 Q 0.6,0.235 0.21,0.21 Q 0.235,0.6 0.34,1 L -0.34,1 Q -0.235,0.6 -0.21,0.21 Q -0.6,0.235 -1,0.34 L -1,-0.34 Q -0.6,-0.235 -0.21,-0.21 Q -0.235,-0.6 -0.34,-1 Z" fill="#fff" stroke="#fff" stroke-width="0.2150" stroke-linejoin="miter"/><path d="M -0.34,-1 L 0.34,-1 Q 0.235,-0.6 0.21,-0.21 Q 0.6,-0.235 1,-0.34 L 1,0.34 Q 0.6,0.235 0.21,0.21 Q 0.235,0.6 0.34,1 L -0.34,1 Q -0.235,0.6 -0.21,0.21 Q -0.6,0.235 -1,0.34 L -1,-0.34 Q -0.6,-0.235 -0.21,-0.21 Q -0.235,-0.6 -0.34,-1 Z" fill="#2b2a29"/></g>
<path d="M160.2,59.5 L160.9,153 M164.7,59.5 L165.4,153 M169.2,59.5 L169.9,153 M207.8,59.5 L209.4,153 M211.6,59.5 L213,153 M221.3,59.5 L221.8,153 M224.4,59.5 L224.8,153 M227.5,59.5 L227.6,153 M165.6,61 L213,150 M223,62 L168,152" stroke="#4a3322" stroke-width="0.55" fill="none"/>
<path d="M154,156.3 C156,153.5 158,152.5 159,152 C164,150 168,149.3 173.6,149 L202.7,149 C212,149.6 222,151 231.8,152.6 L263.8,156.3" fill="none" stroke="#4a3322" stroke-width="0.5"/>
<path d="M154,156.6 C160,153.2 168,151.3 176,151 C195,150.6 228,154.3 263.6,158.6 L263,160.2 C240,157 205,154.2 186,154.4 C172,154.6 160,156 153,158 Z" fill="#B36E3C" stroke="#4a3322" stroke-width="0.4"/>
<path d="M153.6,156.5 C162,154.6 175,154.4 188,154.8 C205,155.2 220,156.4 231.8,157.7 L263,160 L261,164.7 L231.8,161.4 C215,159.6 200,158.4 188,158.2 C172,158.2 160,158.8 151.8,159.3 Z" fill="#C6DDE3" stroke="#66757a" stroke-width="0.4"/>
<path d="M153.4,58.5 C156,55.5 161,53 167.4,51.2 C171,50.4 176,50.3 180,50.6 L216.4,55.4 L229,59.6 L261.5,66.2 L259,68.4 L229,64 L203.6,59.4 L178.2,58 L159,59.8 Z" fill="#B36E3C" stroke="#4a3322" stroke-width="0.5"/>
<path d="M153.4,58.5 C160,56.6 170,56 180,56 C196,56 214,58.3 229,61 L261.5,66.2 L259,68.4 L229,64 L203.6,59.4 L178.2,58 L159,59.8 Z" fill="#C6DDE3" stroke="#66757a" stroke-width="0.4"/>
<path d="M166.3,51.3 C166,46 168.5,44 171.2,44 C174.5,44 177,46.5 177,50.6 Z" fill="#B36E3C" stroke="#4a3322" stroke-width="0.5"/>
<path d="M216,55.2 C216.5,52.8 218,52 219.5,52 C221.5,52 223.3,53.5 223.8,56.5" fill="none" stroke="#4a3322" stroke-width="0.8"/>
<path d="M152.2,50.2 L157,50.2 L157,51.8 L156.4,51.8 L157.5,56 L156.5,56 L155.2,51.8 L152.2,51.8 Z" fill="#555" stroke="#333" stroke-width="0.3"/>
<path d="M157,50.5 L166,44.5" stroke="#999" stroke-width="0.4"/>
<path d="M140.8,151.3 L144.6,150.7 L149.3,195.5 L145.6,196 Z" fill="#B36E3C" stroke="#4a3322" stroke-width="0.5"/>
<path d="M240.5,150 L244.3,152.6 L182.3,208.7 L179,205.5 Z" fill="#B36E3C" stroke="#4a3322" stroke-width="0.5"/>
<circle cx="156.4" cy="220.5" r="25.4" fill="#777777"/>
<circle cx="156.4" cy="220.5" r="19.3" fill="#B36E3C"/>
<circle cx="156.4" cy="220.5" r="2.6" fill="#9aa" stroke="#555" stroke-width="0.5"/><circle cx="156.4" cy="220.5" r="0.9" fill="#222"/>
<circle cx="166.7" cy="208.2" r="3" fill="#222"/>
</g>
<g transform="translate(678,609.5) scale(-0.539,0.535) translate(-60,-28.2)">
<clipPath id="fc6"><path d="M81.2,100.6 L105.1,93.5 L114.9,88 L121.5,82.5 C122.5,80 123.5,78 124.7,76.5 C126,74.8 127.5,73.8 129.1,73.3 C133,72 137,71.3 140,71 L148,69 C150,66 152,62 153.6,59.5 L178,57 L204,59 L227,63.6 C229,70 232,76 236.4,79 C243,84 250,86 258,86.8 C268,87.5 277,86.5 281.8,84.5 L290,81 L473.6,105.5 L481.8,99 L500,73.6 Q503.5,68.2 510,68.2 L548,68.2 Q557.3,68.2 557.3,77.5 L557.3,108 C557.3,122 552,131 538,133.6 L521.8,135.5 L521.8,136.4 L489,144 L463,144.5 L419,148 L400,149 L333,153.5 L283.6,158 L262,158.7 L152,159 L142,158.7 L131.4,157.6 L106.3,154.4 L81.2,149.5 Z"/></clipPath>
<path d="M74.6,28 C76.5,32 79.6,55 80.2,80 L80.3,104.6 L80.5,146 L80.8,170 C80.5,190 78.5,210 76.3,219.5 Q75.4,221.5 74.8,219.5 C74,205 73.5,180 73.3,144.4 L72.8,104.6 L72.6,80 C72.6,55 73.5,35 74.6,28 Z" fill="#C5824A" stroke="#8a5a33" stroke-width="0.5"/>
<rect x="88.2" y="79.8" width="38" height="12.3" rx="2" fill="#fff" stroke="#1d1d1b" stroke-width="1.5"/>
<rect x="92" y="83.1" width="30" height="4.4" fill="#a5a5a5"/>
<path d="M93.5,83.1 L93.5,87.5 M96,83.1 L96,87.5 M98.5,83.1 L98.5,87.5 M101,83.1 L101,87.5 M103.5,83.1 L103.5,87.5 M106,83.1 L106,87.5 M108.5,83.1 L108.5,87.5 M111,83.1 L111,87.5 M113.5,83.1 L113.5,87.5 M116,83.1 L116,87.5" stroke="#555" stroke-width="0.8" fill="none"/>
<rect x="92.3" y="88" width="30" height="10" fill="#454545"/>
<path d="M95,89.5 L112,89.5" stroke="#999" stroke-width="0.8"/>
<g clip-path="url(#fc6)">
<rect x="55" y="40" width="510" height="130" fill="#B36E3C"/>
<path d="M326.8,70 L366,70 L366,160 L297.7,160 Z" fill="#71781D"/>
<path d="M107.5,151 L150,155.4 L153,155.6 L262,156.3 L283.6,154.5 L333,150 L400,142.7 L419,141 L469,137.3 L521.8,135.5 L560,135 L560,170 L107.5,170 Z" fill="#C6DDE3"/>
<rect x="366" y="60" width="59" height="110" fill="#1d1d1b"/>
</g>
<path d="M81.2,100.6 L105.1,93.5 L114.9,88 L121.5,82.5 C122.5,80 123.5,78 124.7,76.5 C126,74.8 127.5,73.8 129.1,73.3 C133,72 137,71.3 140,71 L148,69 C150,66 152,62 153.6,59.5 L178,57 L204,59 L227,63.6 C229,70 232,76 236.4,79 C243,84 250,86 258,86.8 C268,87.5 277,86.5 281.8,84.5 L290,81 L473.6,105.5 L481.8,99 L500,73.6 Q503.5,68.2 510,68.2 L548,68.2 Q557.3,68.2 557.3,77.5 L557.3,108 C557.3,122 552,131 538,133.6 L521.8,135.5 L521.8,136.4 L489,144 L463,144.5 L419,148 L400,149 L333,153.5 L283.6,158 L262,158.7 L152,159 L142,158.7 L131.4,157.6 L106.3,154.4 L81.2,149.5 Z" fill="none" stroke="#4a3322" stroke-width="0.6"/>
<path d="M229,68 C231,74 233,77 236.4,79.5 C243,84.5 250,86.5 258,87.3 C268,88 277,87 281.8,85 L289,81.6" fill="none" stroke="#4d4a40" stroke-width="1.4"/>
<path d="M81.2,100.6 C67,102.5 60,113 60,124 C60,136 66,146.5 81.2,149.5 Z" fill="#B36E3C" stroke="#777" stroke-width="0.6"/>
<rect x="115.5" y="101.1" width="13" height="17" rx="2" fill="none" stroke="#4a3322" stroke-width="0.6"/><rect x="118.4" y="104.1" width="2.2" height="11" rx="1" fill="#9a5e30" stroke="#4a3322" stroke-width="0.4"/><rect x="123.4" y="104.1" width="2.2" height="11" rx="1" fill="#9a5e30" stroke="#4a3322" stroke-width="0.4"/>
<rect x="136.5" y="101.1" width="13" height="17" rx="2" fill="none" stroke="#4a3322" stroke-width="0.6"/><rect x="139.4" y="104.1" width="2.2" height="11" rx="1" fill="#9a5e30" stroke="#4a3322" stroke-width="0.4"/><rect x="144.4" y="104.1" width="2.2" height="11" rx="1" fill="#9a5e30" stroke="#4a3322" stroke-width="0.4"/>
<rect x="115.5" y="128.5" width="13" height="17" rx="2" fill="none" stroke="#4a3322" stroke-width="0.6"/><rect x="118.4" y="131.5" width="2.2" height="11" rx="1" fill="#9a5e30" stroke="#4a3322" stroke-width="0.4"/><rect x="123.4" y="131.5" width="2.2" height="11" rx="1" fill="#9a5e30" stroke="#4a3322" stroke-width="0.4"/>
<rect x="148.9" y="128.5" width="13" height="17" rx="2" fill="none" stroke="#4a3322" stroke-width="0.6"/><rect x="151.8" y="131.5" width="2.2" height="11" rx="1" fill="#9a5e30" stroke="#4a3322" stroke-width="0.4"/><rect x="156.8" y="131.5" width="2.2" height="11" rx="1" fill="#9a5e30" stroke="#4a3322" stroke-width="0.4"/>
<rect x="175.5" y="101.1" width="13" height="17" rx="2" fill="none" stroke="#4a3322" stroke-width="0.6"/><rect x="178.4" y="104.1" width="2.2" height="11" rx="1" fill="#9a5e30" stroke="#4a3322" stroke-width="0.4"/><rect x="183.4" y="104.1" width="2.2" height="11" rx="1" fill="#9a5e30" stroke="#4a3322" stroke-width="0.4"/>
<rect x="175.5" y="128.5" width="13" height="17" rx="2" fill="none" stroke="#4a3322" stroke-width="0.6"/><rect x="178.4" y="131.5" width="2.2" height="11" rx="1" fill="#9a5e30" stroke="#4a3322" stroke-width="0.4"/><rect x="183.4" y="131.5" width="2.2" height="11" rx="1" fill="#9a5e30" stroke="#4a3322" stroke-width="0.4"/>
<rect x="85.6" y="101.5" width="2" height="8" rx="1" fill="none" stroke="#4a3322" stroke-width="0.5"/>
<rect x="90.5" y="101.5" width="2" height="8" rx="1" fill="none" stroke="#4a3322" stroke-width="0.5"/>
<rect x="85.6" y="111" width="2" height="9" rx="1" fill="none" stroke="#4a3322" stroke-width="0.5"/>
<rect x="90.5" y="111" width="2" height="9" rx="1" fill="none" stroke="#4a3322" stroke-width="0.5"/>
<rect x="85.6" y="131" width="2" height="9" rx="1" fill="none" stroke="#4a3322" stroke-width="0.5"/>
<rect x="90.5" y="131" width="2" height="9" rx="1" fill="none" stroke="#4a3322" stroke-width="0.5"/>
<rect x="85.6" y="144" width="2" height="6" rx="1" fill="none" stroke="#4a3322" stroke-width="0.5"/>
<rect x="90.5" y="144" width="2" height="6" rx="1" fill="none" stroke="#4a3322" stroke-width="0.5"/>
<path d="M81.2,123.8 L162,123.8 M106.3,93 L106.3,154 M106.3,100.5 C116,96 128,89 135.5,82.7 C141,78 145,74 148.5,68.5" fill="none" stroke="#4a3322" stroke-width="0.6"/>
<path d="M132.2,91 L117.9,91 L114.9,96.8 L123.6,102.6 L130.9,117.2 L135.7,117.2 L133.7,101.1 Z" fill="#8c8783" stroke="#555" stroke-width="0.6"/>
<rect x="274.5" y="113" width="11.5" height="7.5" fill="none" stroke="#4a3322" stroke-width="0.5"/>
<rect x="311" y="140" width="12" height="7" fill="none" stroke="#4a3322" stroke-width="0.5"/>
<rect x="210.5" y="111.5" width="6" height="9.5" fill="none" stroke="#4a3322" stroke-width="0.5"/>
<rect x="204.5" y="96" width="4.6" height="13.5" rx="2.3" fill="#3a3a3a" stroke="#222" stroke-width="0.4"/>
<rect x="188.5" y="127.5" width="5.5" height="9.5" fill="#f1e9d8" stroke="#4a3322" stroke-width="0.4"/>
<rect x="186" y="68" width="16.5" height="5.5" fill="none" stroke="#4a3322" stroke-width="0.5"/>
<rect x="190.5" y="74.5" width="6.5" height="11" fill="none" stroke="#4a3322" stroke-width="0.5"/>
<circle cx="160" cy="89" r="2.6" fill="none" stroke="#4a3322" stroke-width="0.5"/><circle cx="160" cy="89" r="1.1" fill="none" stroke="#4a3322" stroke-width="0.4"/>
<circle cx="185.5" cy="89.5" r="2.6" fill="none" stroke="#4a3322" stroke-width="0.5"/><circle cx="185.5" cy="89.5" r="1.1" fill="none" stroke="#4a3322" stroke-width="0.4"/>
<circle cx="212" cy="89.5" r="2.6" fill="none" stroke="#4a3322" stroke-width="0.5"/><circle cx="212" cy="89.5" r="1.1" fill="none" stroke="#4a3322" stroke-width="0.4"/>
<circle cx="295" cy="100.5" r="2.6" fill="none" stroke="#4a3322" stroke-width="0.5"/><circle cx="295" cy="100.5" r="1.1" fill="none" stroke="#4a3322" stroke-width="0.4"/>
<circle cx="449" cy="130.5" r="4.6" fill="none" stroke="#4a3322" stroke-width="0.5"/>
<rect x="500" y="127" width="11" height="5" rx="2.5" fill="none" stroke="#4a3322" stroke-width="0.5"/>
<path d="M521.8,118 L521.8,136" fill="none" stroke="#4a3322" stroke-width="0.5"/>
<path d="M481.8,146.5 L497,160.2 L508,161.3 L508,163.2 L496,162.6 L479.5,148 Z" fill="#DDA070" stroke="#9a6a45" stroke-width="0.4"/>
<path d="M463.6,142.7 C464,146 466,147.5 469,147.5 L489,147.5 L521.8,136.4 L478,139.5 Z" fill="#C6DDE3" stroke="#66757a" stroke-width="0.5"/>
<path d="M478.5,139.5 L478.5,147.3" stroke="#66757a" stroke-width="0.4" fill="none"/>
<path d="M527,86 L557,86.5 M530,108 L557,108.5" stroke="#7a4a28" stroke-width="0.8" fill="none"/>
<path d="M447,116 L520,109.5" stroke="#3a3028" stroke-width="0.7" fill="none"/>
<rect x="446.5" y="114.8" width="3.5" height="2.2" fill="#222"/>
<path d="M503,119 L520,87" stroke="#a0663a" stroke-width="1.2" fill="none"/>
<path d="M441,120.6 C460,118.3 520,118.8 547,120.3 C520,122.2 470,123 441,120.6 Z" fill="#71781D" stroke="#3a3a30" stroke-width="0.5"/>
<path d="M441,120.8 C455,122.8 480,122.8 492,121.4 C475,121 455,120.6 441,120.8 Z" fill="#C6DDE3" stroke="#66757a" stroke-width="0.3"/>
<g transform="translate(339,118.5) scale(22.5)"><path d="M -0.34,-1 L 0.34,-1 Q 0.235,-0.6 0.21,-0.21 Q 0.6,-0.235 1,-0.34 L 1,0.34 Q 0.6,0.235 0.21,0.21 Q 0.235,0.6 0.34,1 L -0.34,1 Q -0.235,0.6 -0.21,0.21 Q -0.6,0.235 -1,0.34 L -1,-0.34 Q -0.6,-0.235 -0.21,-0.21 Q -0.235,-0.6 -0.34,-1 Z" fill="#fff" stroke="#fff" stroke-width="0.2133" stroke-linejoin="miter"/><path d="M -0.34,-1 L 0.34,-1 Q 0.235,-0.6 0.21,-0.21 Q 0.6,-0.235 1,-0.34 L 1,0.34 Q 0.6,0.235 0.21,0.21 Q 0.235,0.6 0.34,1 L -0.34,1 Q -0.235,0.6 -0.21,0.21 Q -0.6,0.235 -1,0.34 L -1,-0.34 Q -0.6,-0.235 -0.21,-0.21 Q -0.235,-0.6 -0.34,-1 Z" fill="#2b2a29"/></g>
<path d="M419.70,116.00 L410.84,101.50 L401.98,101.50 L401.98,146.60 L414.60,146.60 L414.60,143.60 L412.77,143.60 L412.77,113.50 L417.48,120.60 Z" fill="#fff"/><path d="M398.03,105.10 Q398.03,101.50 394.56,101.50 L373.47,101.50 Q370.00,101.50 370.00,105.10 L370.00,143.00 Q370.00,146.60 373.47,146.60 L394.56,146.60 Q398.03,146.60 398.03,143.00 Z" fill="#fff"/><path d="M390.32,109.50 L377.32,109.50 L377.32,137.90 L390.32,137.90 Z" fill="#1d1d1b"/>
<g transform="translate(530.2,101.8) scale(21.4)"><path d="M -0.34,-1 L 0.34,-1 Q 0.235,-0.6 0.21,-0.21 Q 0.6,-0.235 1,-0.34 L 1,0.34 Q 0.6,0.235 0.21,0.21 Q 0.235,0.6 0.34,1 L -0.34,1 Q -0.235,0.6 -0.21,0.21 Q -0.6,0.235 -1,0.34 L -1,-0.34 Q -0.6,-0.235 -0.21,-0.21 Q -0.235,-0.6 -0.34,-1 Z" fill="#fff" stroke="#fff" stroke-width="0.2150" stroke-linejoin="miter"/><path d="M -0.34,-1 L 0.34,-1 Q 0.235,-0.6 0.21,-0.21 Q 0.6,-0.235 1,-0.34 L 1,0.34 Q 0.6,0.235 0.21,0.21 Q 0.235,0.6 0.34,1 L -0.34,1 Q -0.235,0.6 -0.21,0.21 Q -0.6,0.235 -1,0.34 L -1,-0.34 Q -0.6,-0.235 -0.21,-0.21 Q -0.235,-0.6 -0.34,-1 Z" fill="#2b2a29"/></g>
<path d="M160.2,59.5 L160.9,153 M164.7,59.5 L165.4,153 M169.2,59.5 L169.9,153 M207.8,59.5 L209.4,153 M211.6,59.5 L213,153 M221.3,59.5 L221.8,153 M224.4,59.5 L224.8,153 M227.5,59.5 L227.6,153 M165.6,61 L213,150 M223,62 L168,152" stroke="#4a3322" stroke-width="0.55" fill="none"/>
<path d="M154,156.3 C156,153.5 158,152.5 159,152 C164,150 168,149.3 173.6,149 L202.7,149 C212,149.6 222,151 231.8,152.6 L263.8,156.3" fill="none" stroke="#4a3322" stroke-width="0.5"/>
<path d="M154,156.6 C160,153.2 168,151.3 176,151 C195,150.6 228,154.3 263.6,158.6 L263,160.2 C240,157 205,154.2 186,154.4 C172,154.6 160,156 153,158 Z" fill="#B36E3C" stroke="#4a3322" stroke-width="0.4"/>
<path d="M153.6,156.5 C162,154.6 175,154.4 188,154.8 C205,155.2 220,156.4 231.8,157.7 L263,160 L261,164.7 L231.8,161.4 C215,159.6 200,158.4 188,158.2 C172,158.2 160,158.8 151.8,159.3 Z" fill="#C6DDE3" stroke="#66757a" stroke-width="0.4"/>
<path d="M153.4,58.5 C156,55.5 161,53 167.4,51.2 C171,50.4 176,50.3 180,50.6 L216.4,55.4 L229,59.6 L261.5,66.2 L259,68.4 L229,64 L203.6,59.4 L178.2,58 L159,59.8 Z" fill="#B36E3C" stroke="#4a3322" stroke-width="0.5"/>
<path d="M153.4,58.5 C160,56.6 170,56 180,56 C196,56 214,58.3 229,61 L261.5,66.2 L259,68.4 L229,64 L203.6,59.4 L178.2,58 L159,59.8 Z" fill="#C6DDE3" stroke="#66757a" stroke-width="0.4"/>
<path d="M166.3,51.3 C166,46 168.5,44 171.2,44 C174.5,44 177,46.5 177,50.6 Z" fill="#B36E3C" stroke="#4a3322" stroke-width="0.5"/>
<path d="M216,55.2 C216.5,52.8 218,52 219.5,52 C221.5,52 223.3,53.5 223.8,56.5" fill="none" stroke="#4a3322" stroke-width="0.8"/>
<path d="M152.2,50.2 L157,50.2 L157,51.8 L156.4,51.8 L157.5,56 L156.5,56 L155.2,51.8 L152.2,51.8 Z" fill="#555" stroke="#333" stroke-width="0.3"/>
<path d="M157,50.5 L166,44.5" stroke="#999" stroke-width="0.4"/>
<path d="M140.8,151.3 L144.6,150.7 L149.3,195.5 L145.6,196 Z" fill="#B36E3C" stroke="#4a3322" stroke-width="0.5"/>
<path d="M240.5,150 L244.3,152.6 L182.3,208.7 L179,205.5 Z" fill="#B36E3C" stroke="#4a3322" stroke-width="0.5"/>
<circle cx="156.4" cy="220.5" r="25.4" fill="#777777"/>
<circle cx="156.4" cy="220.5" r="19.3" fill="#B36E3C"/>
<circle cx="156.4" cy="220.5" r="2.6" fill="#9aa" stroke="#555" stroke-width="0.5"/><circle cx="156.4" cy="220.5" r="0.9" fill="#222"/>
<circle cx="166.7" cy="208.2" r="3" fill="#222"/>
</g>
<g><clipPath id="tw1"><path d="M643,67.6 L760,65.2 L877,67.6 Q879.3,67.7 879.8,70 L885.4,103.8 Q886,107.2 882.5,107.2 L760,105.4 L637.5,107.2 Q634,107.2 634.6,103.8 L640.2,70 Q640.7,67.7 643,67.6 Z"/></clipPath><clipPath id="tf1"><path d="M750.3,40 Q750.4,38.2 752.5,38.2 L767.8,38.2 Q769.9,38.2 770,40 L772.5,64 L771.8,110 C771.5,130 770,150 767.6,160 L765.3,176 L762.2,200 L760,207 L757.8,200 L754.7,176 L752.9,160 C750.5,150 748.8,130 748.5,110 L747.8,64 Z"/></clipPath><clipPath id="tt1"><path d="M754.7,175.8 L741,175.6 Q735.5,175.6 733,180 L722.2,200.5 Q719.6,205.5 719.6,210.5 Q720,216.9 726.8,216.6 L748,212.5 Q755,211 758.8,204.8 L761.6,204.8 Q765.4,211 772.4,212.5 L794.4,216.6 Q801.2,216.9 801.6,210.5 Q801.6,205.5 799,200.5 L788.2,180 Q785.7,175.6 780.2,175.6 L765.5,175.8 Z"/></clipPath>
<path d="M750.3,38.5 C751,34 755,30.8 760.1,29.1 C765.2,30.8 769.3,34 770,38.5 Z" fill="#ffffff" stroke="#555" stroke-width="0.5"/>
<g clip-path="url(#tt1)"><rect x="715" y="170" width="92" height="50" fill="#B36E3C"/>
<path d="M715,170 L741.5,170 L742,185 L748.5,218 L715,220 Z" fill="#71781D"/>
<path d="M807,170 L777.5,170 L778,190 L776.5,220 L807,220 Z" fill="#71781D"/>
<path d="M732.5,172 L732.5,219 M741,172 L741,219 M749.5,172 L749.5,219 M770.5,172 L770.5,219 M779,172 L779,219 M787.5,172 L787.5,219" stroke="#4a3322" stroke-width="0.45" fill="none"/>
<path d="M721.5,202.5 L798.5,202.5 M732,202.5 L727,192 M788,202.5 L793,192" stroke="#4a3322" stroke-width="0.45" fill="none"/>
</g>
<path d="M754.7,175.8 L741,175.6 Q735.5,175.6 733,180 L722.2,200.5 Q719.6,205.5 719.6,210.5 Q720,216.9 726.8,216.6 L748,212.5 Q755,211 758.8,204.8 L761.6,204.8 Q765.4,211 772.4,212.5 L794.4,216.6 Q801.2,216.9 801.6,210.5 Q801.6,205.5 799,200.5 L788.2,180 Q785.7,175.6 780.2,175.6 L765.5,175.8 Z" fill="none" stroke="#4a3322" stroke-width="0.5"/>
<g clip-path="url(#tf1)"><rect x="745" y="35" width="30" height="175" fill="#B36E3C"/>
<path d="M745,118 L775,118 L775,147.3 C768,147 764,150 757,148.5 L745,149 Z" fill="#71781D"/>
<rect x="745" y="158.7" width="30" height="3.2" fill="#fff"/>
</g>
<path d="M750.3,40 Q750.4,38.2 752.5,38.2 L767.8,38.2 Q769.9,38.2 770,40 L772.5,64 L771.8,110 C771.5,130 770,150 767.6,160 L765.3,176 L762.2,200 L760,207 L757.8,200 L754.7,176 L752.9,160 C750.5,150 748.8,130 748.5,110 L747.8,64 Z" fill="none" stroke="#4a3322" stroke-width="0.5"/>
<rect x="756.5" y="38.5" width="7" height="24" fill="#6a6a6a" stroke="#333" stroke-width="0.4"/>
<path d="M757.5,36 L762,35.5 L763,48 L757,48 Z" fill="#8a8a8a" stroke="#333" stroke-width="0.3"/>
<path d="M763.5,50 L773.5,55.5 L772.5,58 L763.5,57 Z" fill="#9a9a9a" stroke="#444" stroke-width="0.4"/>
<path d="M752,40 L752,62 M768,40 L768,50" stroke="#4a3322" stroke-width="0.4" fill="none"/>
<path d="M760,188 L760,222.5" stroke="#6a4a30" stroke-width="0.9"/>
<g clip-path="url(#tw1)"><rect x="630" y="60" width="260" height="50" fill="#B36E3C"/>
<path d="M672,60 L700.5,60 C699,70 697.5,72 699,80 C701,90 700,95 701,110 L672,110 Z" fill="#71781D"/>
<path d="M801.5,60 L826.5,60 C828,72 825,80 826.5,88 C827.5,97 826,100 826.8,110 L800,110 C801.5,98 800.5,90 801,80 C801.5,72 800.5,68 801.5,60 Z" fill="#71781D"/>
<path d="M737.3,62 L737.3,110 M782.7,62 L782.7,110 M742.7,62 L742.7,93.5 M777.3,62 L777.3,93.5 M727.0,62 L727.0,110 M793.0,62 L793.0,110 M732.4,62 L732.4,93.5 M787.6,62 L787.6,93.5 M716.6,62 L716.6,110 M803.4,62 L803.4,110 M722.0,62 L722.0,93.5 M798.0,62 L798.0,93.5 M706.2,62 L706.2,110 M813.8,62 L813.8,110 M711.6,62 L711.6,93.5 M808.4,62 L808.4,93.5 M695.9,62 L695.9,110 M824.1,62 L824.1,110 M701.3,62 L701.3,93.5 M818.7,62 L818.7,93.5 M685.5,62 L685.5,110 M834.5,62 L834.5,110 M691.0,62 L691.0,93.5 M829.0,62 L829.0,93.5 M675.2,62 L675.2,110 M844.8,62 L844.8,110 M680.6,62 L680.6,93.5 M839.4,62 L839.4,93.5 M664.9,62 L664.9,110 M855.1,62 L855.1,110 M670.2,62 L670.2,93.5 M849.8,62 L849.8,93.5 M654.5,62 L654.5,110 M865.5,62 L865.5,110 M659.9,62 L659.9,93.5 M860.1,62 L860.1,93.5 M644.1,62 L644.1,110 M875.9,62 L875.9,110 M649.5,62 L649.5,93.5 M870.5,62 L870.5,93.5" stroke="#4a3322" stroke-width="0.45" fill="none" opacity="0.8"/>
<path d="M636,94.5 L659,93.8 M884,94.5 L861,93.8" stroke="#4a3322" stroke-width="0.4" fill="none"/>
</g>
<path d="M643,67.6 L760,65.2 L877,67.6 Q879.3,67.7 879.8,70 L885.4,103.8 Q886,107.2 882.5,107.2 L760,105.4 L637.5,107.2 Q634,107.2 634.6,103.8 L640.2,70 Q640.7,67.7 643,67.6 Z" fill="none" stroke="#4a3322" stroke-width="0.5"/>
<rect x="747.8" y="68.6" width="10.2" height="23" fill="#c9cbcc" stroke="#777" stroke-width="0.4"/>
<path d="M748.3,70.5 L757.5,70.5 M748.3,72.1 L757.5,72.1 M748.3,73.7 L757.5,73.7 M748.3,75.3 L757.5,75.3 M748.3,76.9 L757.5,76.9 M748.3,78.5 L757.5,78.5 M748.3,80.1 L757.5,80.1 M748.3,81.7 L757.5,81.7 M748.3,83.3 L757.5,83.3 M748.3,84.9 L757.5,84.9 M748.3,86.5 L757.5,86.5 M748.3,88.1 L757.5,88.1 M748.3,89.7 L757.5,89.7" stroke="#8e9294" stroke-width="0.45" fill="none"/>
<rect x="762.2" y="68.6" width="10.2" height="23" fill="#c9cbcc" stroke="#777" stroke-width="0.4"/>
<path d="M762.7,70.5 L771.9000000000001,70.5 M762.7,72.1 L771.9000000000001,72.1 M762.7,73.7 L771.9000000000001,73.7 M762.7,75.3 L771.9000000000001,75.3 M762.7,76.9 L771.9000000000001,76.9 M762.7,78.5 L771.9000000000001,78.5 M762.7,80.1 L771.9000000000001,80.1 M762.7,81.7 L771.9000000000001,81.7 M762.7,83.3 L771.9000000000001,83.3 M762.7,84.9 L771.9000000000001,84.9 M762.7,86.5 L771.9000000000001,86.5 M762.7,88.1 L771.9000000000001,88.1 M762.7,89.7 L771.9000000000001,89.7" stroke="#8e9294" stroke-width="0.45" fill="none"/>
<path d="M760,64.8 L760,95" stroke="#4a3322" stroke-width="0.5"/>
<rect x="733.5" y="61.5" width="3" height="4.5" rx="1.2" fill="#777"/><rect x="783.5" y="61.5" width="3" height="4.5" rx="1.2" fill="#777"/>
<path d="M751.2,104 C751.2,98 755,95.7 760.3,95.7 C765.6,95.7 769.6,98 769.6,104 L769.3,113 C769,117 766,118.3 760.3,118.3 C754.6,118.3 751.8,117 751.5,113 Z" fill="#232220" stroke="#5a4a3a" stroke-width="0.7"/>
<g transform="translate(665.7,86.8) scale(16.75)"><path d="M -0.34,-1 L 0.34,-1 Q 0.235,-0.6 0.21,-0.21 Q 0.6,-0.235 1,-0.34 L 1,0.34 Q 0.6,0.235 0.21,0.21 Q 0.235,0.6 0.34,1 L -0.34,1 Q -0.235,0.6 -0.21,0.21 Q -0.6,0.235 -1,0.34 L -1,-0.34 Q -0.6,-0.235 -0.21,-0.21 Q -0.235,-0.6 -0.34,-1 Z" fill="#fff" stroke="#fff" stroke-width="0.2030" stroke-linejoin="miter"/><path d="M -0.34,-1 L 0.34,-1 Q 0.235,-0.6 0.21,-0.21 Q 0.6,-0.235 1,-0.34 L 1,0.34 Q 0.6,0.235 0.21,0.21 Q 0.235,0.6 0.34,1 L -0.34,1 Q -0.235,0.6 -0.21,0.21 Q -0.6,0.235 -1,0.34 L -1,-0.34 Q -0.6,-0.235 -0.21,-0.21 Q -0.235,-0.6 -0.34,-1 Z" fill="#2b2a29"/></g>
<g transform="translate(853.6,86.8) scale(16.75)"><path d="M -0.34,-1 L 0.34,-1 Q 0.235,-0.6 0.21,-0.21 Q 0.6,-0.235 1,-0.34 L 1,0.34 Q 0.6,0.235 0.21,0.21 Q 0.235,0.6 0.34,1 L -0.34,1 Q -0.235,0.6 -0.21,0.21 Q -0.6,0.235 -1,0.34 L -1,-0.34 Q -0.6,-0.235 -0.21,-0.21 Q -0.235,-0.6 -0.34,-1 Z" fill="#fff" stroke="#fff" stroke-width="0.2030" stroke-linejoin="miter"/><path d="M -0.34,-1 L 0.34,-1 Q 0.235,-0.6 0.21,-0.21 Q 0.6,-0.235 1,-0.34 L 1,0.34 Q 0.6,0.235 0.21,0.21 Q 0.235,0.6 0.34,1 L -0.34,1 Q -0.235,0.6 -0.21,0.21 Q -0.6,0.235 -1,0.34 L -1,-0.34 Q -0.6,-0.235 -0.21,-0.21 Q -0.235,-0.6 -0.34,-1 Z" fill="#2b2a29"/></g></g>
<g transform="translate(-4.3,233)"><clipPath id="tw2"><path d="M643,67.6 L760,65.2 L877,67.6 Q879.3,67.7 879.8,70 L885.4,103.8 Q886,107.2 882.5,107.2 L760,105.4 L637.5,107.2 Q634,107.2 634.6,103.8 L640.2,70 Q640.7,67.7 643,67.6 Z"/></clipPath><clipPath id="tf2"><path d="M750.3,40 Q750.4,38.2 752.5,38.2 L767.8,38.2 Q769.9,38.2 770,40 L772.5,64 L771.8,110 C771.5,130 770,150 767.6,160 L765.3,176 L762.2,200 L760,207 L757.8,200 L754.7,176 L752.9,160 C750.5,150 748.8,130 748.5,110 L747.8,64 Z"/></clipPath><clipPath id="tt2"><path d="M754.7,175.8 L741,175.6 Q735.5,175.6 733,180 L722.2,200.5 Q719.6,205.5 719.6,210.5 Q720,216.9 726.8,216.6 L748,212.5 Q755,211 758.8,204.8 L761.6,204.8 Q765.4,211 772.4,212.5 L794.4,216.6 Q801.2,216.9 801.6,210.5 Q801.6,205.5 799,200.5 L788.2,180 Q785.7,175.6 780.2,175.6 L765.5,175.8 Z"/></clipPath>
<path d="M750.3,38.5 C751,34 755,30.8 760.1,29.1 C765.2,30.8 769.3,34 770,38.5 Z" fill="#ffffff" stroke="#555" stroke-width="0.5"/>
<g clip-path="url(#tt2)"><rect x="715" y="170" width="92" height="50" fill="#B36E3C"/>
<path d="M715,170 L741.5,170 L742,185 L748.5,218 L715,220 Z" fill="#71781D"/>
<path d="M807,170 L777.5,170 L778,190 L776.5,220 L807,220 Z" fill="#71781D"/>
<path d="M732.5,172 L732.5,219 M741,172 L741,219 M749.5,172 L749.5,219 M770.5,172 L770.5,219 M779,172 L779,219 M787.5,172 L787.5,219" stroke="#4a3322" stroke-width="0.45" fill="none"/>
<path d="M721.5,202.5 L798.5,202.5 M732,202.5 L727,192 M788,202.5 L793,192" stroke="#4a3322" stroke-width="0.45" fill="none"/>
</g>
<path d="M754.7,175.8 L741,175.6 Q735.5,175.6 733,180 L722.2,200.5 Q719.6,205.5 719.6,210.5 Q720,216.9 726.8,216.6 L748,212.5 Q755,211 758.8,204.8 L761.6,204.8 Q765.4,211 772.4,212.5 L794.4,216.6 Q801.2,216.9 801.6,210.5 Q801.6,205.5 799,200.5 L788.2,180 Q785.7,175.6 780.2,175.6 L765.5,175.8 Z" fill="none" stroke="#4a3322" stroke-width="0.5"/>
<g clip-path="url(#tf2)"><rect x="745" y="35" width="30" height="175" fill="#B36E3C"/>
<path d="M745,118 L775,118 L775,147.3 C768,147 764,150 757,148.5 L745,149 Z" fill="#71781D"/>
</g>
<path d="M750.3,40 Q750.4,38.2 752.5,38.2 L767.8,38.2 Q769.9,38.2 770,40 L772.5,64 L771.8,110 C771.5,130 770,150 767.6,160 L765.3,176 L762.2,200 L760,207 L757.8,200 L754.7,176 L752.9,160 C750.5,150 748.8,130 748.5,110 L747.8,64 Z" fill="none" stroke="#4a3322" stroke-width="0.5"/>
<path d="M755.7,132.6 L754.0,135.7 L755.9,138.8 L754.2,141.9 L756.2,145.0 L754.5,148.1 L756.4,151.2 L754.7,154.4 L756.6,157.5 L754.9,160.6 L756.9,163.7 L755.2,166.8 L757.1,169.9 L755.4,173.0" fill="none" stroke="#fff" stroke-width="1.3" stroke-linejoin="round"/>
<path d="M766.6,132.6 L764.7,135.7 L766.4,138.8 L764.4,141.9 L766.1,145.0 L764.2,148.1 L765.9,151.2 L763.9,154.4 L765.6,157.5 L763.7,160.6 L765.4,163.7 L763.4,166.8 L765.1,169.9 L763.2,173.0" fill="none" stroke="#fff" stroke-width="1.3" stroke-linejoin="round"/>
<rect x="756.5" y="38.5" width="7" height="24" fill="#6a6a6a" stroke="#333" stroke-width="0.4"/>
<path d="M757.5,36 L762,35.5 L763,48 L757,48 Z" fill="#8a8a8a" stroke="#333" stroke-width="0.3"/>
<path d="M763.5,50 L773.5,55.5 L772.5,58 L763.5,57 Z" fill="#9a9a9a" stroke="#444" stroke-width="0.4"/>
<path d="M752,40 L752,62 M768,40 L768,50" stroke="#4a3322" stroke-width="0.4" fill="none"/>
<path d="M760,188 L760,222.5" stroke="#6a4a30" stroke-width="0.9"/>
<g clip-path="url(#tw2)"><rect x="630" y="60" width="260" height="50" fill="#B36E3C"/>
<path d="M672,60 L700.5,60 C699,70 697.5,72 699,80 C701,90 700,95 701,110 L672,110 Z" fill="#71781D"/>
<path d="M801.5,60 L826.5,60 C828,72 825,80 826.5,88 C827.5,97 826,100 826.8,110 L800,110 C801.5,98 800.5,90 801,80 C801.5,72 800.5,68 801.5,60 Z" fill="#71781D"/>
<path d="M737.3,62 L737.3,110 M782.7,62 L782.7,110 M742.7,62 L742.7,93.5 M777.3,62 L777.3,93.5 M727.0,62 L727.0,110 M793.0,62 L793.0,110 M732.4,62 L732.4,93.5 M787.6,62 L787.6,93.5 M716.6,62 L716.6,110 M803.4,62 L803.4,110 M722.0,62 L722.0,93.5 M798.0,62 L798.0,93.5 M706.2,62 L706.2,110 M813.8,62 L813.8,110 M711.6,62 L711.6,93.5 M808.4,62 L808.4,93.5 M695.9,62 L695.9,110 M824.1,62 L824.1,110 M701.3,62 L701.3,93.5 M818.7,62 L818.7,93.5 M685.5,62 L685.5,110 M834.5,62 L834.5,110 M691.0,62 L691.0,93.5 M829.0,62 L829.0,93.5 M675.2,62 L675.2,110 M844.8,62 L844.8,110 M680.6,62 L680.6,93.5 M839.4,62 L839.4,93.5 M664.9,62 L664.9,110 M855.1,62 L855.1,110 M670.2,62 L670.2,93.5 M849.8,62 L849.8,93.5 M654.5,62 L654.5,110 M865.5,62 L865.5,110 M659.9,62 L659.9,93.5 M860.1,62 L860.1,93.5 M644.1,62 L644.1,110 M875.9,62 L875.9,110 M649.5,62 L649.5,93.5 M870.5,62 L870.5,93.5" stroke="#4a3322" stroke-width="0.45" fill="none" opacity="0.8"/>
<path d="M636,94.5 L659,93.8 M884,94.5 L861,93.8" stroke="#4a3322" stroke-width="0.4" fill="none"/>
</g>
<path d="M643,67.6 L760,65.2 L877,67.6 Q879.3,67.7 879.8,70 L885.4,103.8 Q886,107.2 882.5,107.2 L760,105.4 L637.5,107.2 Q634,107.2 634.6,103.8 L640.2,70 Q640.7,67.7 643,67.6 Z" fill="none" stroke="#4a3322" stroke-width="0.5"/>
<rect x="747.8" y="68.6" width="10.2" height="23" fill="#c9cbcc" stroke="#777" stroke-width="0.4"/>
<path d="M748.3,70.5 L757.5,70.5 M748.3,72.1 L757.5,72.1 M748.3,73.7 L757.5,73.7 M748.3,75.3 L757.5,75.3 M748.3,76.9 L757.5,76.9 M748.3,78.5 L757.5,78.5 M748.3,80.1 L757.5,80.1 M748.3,81.7 L757.5,81.7 M748.3,83.3 L757.5,83.3 M748.3,84.9 L757.5,84.9 M748.3,86.5 L757.5,86.5 M748.3,88.1 L757.5,88.1 M748.3,89.7 L757.5,89.7" stroke="#8e9294" stroke-width="0.45" fill="none"/>
<rect x="762.2" y="68.6" width="10.2" height="23" fill="#c9cbcc" stroke="#777" stroke-width="0.4"/>
<path d="M762.7,70.5 L771.9000000000001,70.5 M762.7,72.1 L771.9000000000001,72.1 M762.7,73.7 L771.9000000000001,73.7 M762.7,75.3 L771.9000000000001,75.3 M762.7,76.9 L771.9000000000001,76.9 M762.7,78.5 L771.9000000000001,78.5 M762.7,80.1 L771.9000000000001,80.1 M762.7,81.7 L771.9000000000001,81.7 M762.7,83.3 L771.9000000000001,83.3 M762.7,84.9 L771.9000000000001,84.9 M762.7,86.5 L771.9000000000001,86.5 M762.7,88.1 L771.9000000000001,88.1 M762.7,89.7 L771.9000000000001,89.7" stroke="#8e9294" stroke-width="0.45" fill="none"/>
<path d="M760,64.8 L760,95" stroke="#4a3322" stroke-width="0.5"/>
<rect x="733.5" y="61.5" width="3" height="4.5" rx="1.2" fill="#777"/><rect x="783.5" y="61.5" width="3" height="4.5" rx="1.2" fill="#777"/>
<path d="M751.2,104 C751.2,98 755,95.7 760.3,95.7 C765.6,95.7 769.6,98 769.6,104 L769.3,113 C769,117 766,118.3 760.3,118.3 C754.6,118.3 751.8,117 751.5,113 Z" fill="#232220" stroke="#5a4a3a" stroke-width="0.7"/>
<g transform="translate(665.7,86.8) scale(16.75)"><path d="M -0.34,-1 L 0.34,-1 Q 0.235,-0.6 0.21,-0.21 Q 0.6,-0.235 1,-0.34 L 1,0.34 Q 0.6,0.235 0.21,0.21 Q 0.235,0.6 0.34,1 L -0.34,1 Q -0.235,0.6 -0.21,0.21 Q -0.6,0.235 -1,0.34 L -1,-0.34 Q -0.6,-0.235 -0.21,-0.21 Q -0.235,-0.6 -0.34,-1 Z" fill="#fff" stroke="#fff" stroke-width="0.2030" stroke-linejoin="miter"/><path d="M -0.34,-1 L 0.34,-1 Q 0.235,-0.6 0.21,-0.21 Q 0.6,-0.235 1,-0.34 L 1,0.34 Q 0.6,0.235 0.21,0.21 Q 0.235,0.6 0.34,1 L -0.34,1 Q -0.235,0.6 -0.21,0.21 Q -0.6,0.235 -1,0.34 L -1,-0.34 Q -0.6,-0.235 -0.21,-0.21 Q -0.235,-0.6 -0.34,-1 Z" fill="#2b2a29"/></g>
<g transform="translate(853.6,86.8) scale(16.75)"><path d="M -0.34,-1 L 0.34,-1 Q 0.235,-0.6 0.21,-0.21 Q 0.6,-0.235 1,-0.34 L 1,0.34 Q 0.6,0.235 0.21,0.21 Q 0.235,0.6 0.34,1 L -0.34,1 Q -0.235,0.6 -0.21,0.21 Q -0.6,0.235 -1,0.34 L -1,-0.34 Q -0.6,-0.235 -0.21,-0.21 Q -0.235,-0.6 -0.34,-1 Z" fill="#fff" stroke="#fff" stroke-width="0.2030" stroke-linejoin="miter"/><path d="M -0.34,-1 L 0.34,-1 Q 0.235,-0.6 0.21,-0.21 Q 0.6,-0.235 1,-0.34 L 1,0.34 Q 0.6,0.235 0.21,0.21 Q 0.235,0.6 0.34,1 L -0.34,1 Q -0.235,0.6 -0.21,0.21 Q -0.6,0.235 -1,0.34 L -1,-0.34 Q -0.6,-0.235 -0.21,-0.21 Q -0.235,-0.6 -0.34,-1 Z" fill="#2b2a29"/></g></g>
<g transform="translate(0.6,468)"><clipPath id="tw3"><path d="M643,67.6 L760,65.2 L877,67.6 Q879.3,67.7 879.8,70 L885.4,103.8 Q886,107.2 882.5,107.2 L760,105.4 L637.5,107.2 Q634,107.2 634.6,103.8 L640.2,70 Q640.7,67.7 643,67.6 Z"/></clipPath><clipPath id="tf3"><path d="M750.3,40 Q750.4,38.2 752.5,38.2 L767.8,38.2 Q769.9,38.2 770,40 L772.5,64 L771.8,110 C771.5,130 770,150 767.6,160 L765.3,176 L762.2,200 L760,207 L757.8,200 L754.7,176 L752.9,160 C750.5,150 748.8,130 748.5,110 L747.8,64 Z"/></clipPath><clipPath id="tt3"><path d="M754.7,175.8 L741,175.6 Q735.5,175.6 733,180 L722.2,200.5 Q719.6,205.5 719.6,210.5 Q720,216.9 726.8,216.6 L748,212.5 Q755,211 758.8,204.8 L761.6,204.8 Q765.4,211 772.4,212.5 L794.4,216.6 Q801.2,216.9 801.6,210.5 Q801.6,205.5 799,200.5 L788.2,180 Q785.7,175.6 780.2,175.6 L765.5,175.8 Z"/></clipPath>
<path d="M750.3,38.5 C751,34 755,30.8 760.1,29.1 C765.2,30.8 769.3,34 770,38.5 Z" fill="#B36E3C" stroke="#555" stroke-width="0.5"/>
<g clip-path="url(#tt3)"><rect x="715" y="170" width="92" height="50" fill="#B36E3C"/>
<path d="M715,170 L741.5,170 L742,185 L748.5,218 L715,220 Z" fill="#71781D"/>
<path d="M807,170 L777.5,170 L778,190 L776.5,220 L807,220 Z" fill="#71781D"/>
<path d="M732.5,172 L732.5,219 M741,172 L741,219 M749.5,172 L749.5,219 M770.5,172 L770.5,219 M779,172 L779,219 M787.5,172 L787.5,219" stroke="#4a3322" stroke-width="0.45" fill="none"/>
<path d="M721.5,202.5 L798.5,202.5 M732,202.5 L727,192 M788,202.5 L793,192" stroke="#4a3322" stroke-width="0.45" fill="none"/>
</g>
<path d="M754.7,175.8 L741,175.6 Q735.5,175.6 733,180 L722.2,200.5 Q719.6,205.5 719.6,210.5 Q720,216.9 726.8,216.6 L748,212.5 Q755,211 758.8,204.8 L761.6,204.8 Q765.4,211 772.4,212.5 L794.4,216.6 Q801.2,216.9 801.6,210.5 Q801.6,205.5 799,200.5 L788.2,180 Q785.7,175.6 780.2,175.6 L765.5,175.8 Z" fill="none" stroke="#4a3322" stroke-width="0.5"/>
<g clip-path="url(#tf3)"><rect x="745" y="35" width="30" height="175" fill="#B36E3C"/>
<rect x="745" y="118" width="30" height="24.6" fill="#71781D"/><rect x="745" y="142.6" width="30" height="24.4" fill="#1d1d1b"/>
</g>
<path d="M750.3,40 Q750.4,38.2 752.5,38.2 L767.8,38.2 Q769.9,38.2 770,40 L772.5,64 L771.8,110 C771.5,130 770,150 767.6,160 L765.3,176 L762.2,200 L760,207 L757.8,200 L754.7,176 L752.9,160 C750.5,150 748.8,130 748.5,110 L747.8,64 Z" fill="none" stroke="#4a3322" stroke-width="0.5"/>
<rect x="756.5" y="38.5" width="7" height="24" fill="#6a6a6a" stroke="#333" stroke-width="0.4"/>
<path d="M757.5,36 L762,35.5 L763,48 L757,48 Z" fill="#8a8a8a" stroke="#333" stroke-width="0.3"/>
<path d="M763.5,50 L773.5,55.5 L772.5,58 L763.5,57 Z" fill="#9a9a9a" stroke="#444" stroke-width="0.4"/>
<path d="M752,40 L752,62 M768,40 L768,50" stroke="#4a3322" stroke-width="0.4" fill="none"/>
<path d="M760,188 L760,222.5" stroke="#6a4a30" stroke-width="0.9"/>
<g clip-path="url(#tw3)"><rect x="630" y="60" width="260" height="50" fill="#B36E3C"/>
<path d="M672,60 L700.5,60 C699,70 697.5,72 699,80 C701,90 700,95 701,110 L672,110 Z" fill="#71781D"/>
<path d="M801.5,60 L826.5,60 C828,72 825,80 826.5,88 C827.5,97 826,100 826.8,110 L800,110 C801.5,98 800.5,90 801,80 C801.5,72 800.5,68 801.5,60 Z" fill="#71781D"/>
<path d="M737.3,62 L737.3,110 M782.7,62 L782.7,110 M742.7,62 L742.7,93.5 M777.3,62 L777.3,93.5 M727.0,62 L727.0,110 M793.0,62 L793.0,110 M732.4,62 L732.4,93.5 M787.6,62 L787.6,93.5 M716.6,62 L716.6,110 M803.4,62 L803.4,110 M722.0,62 L722.0,93.5 M798.0,62 L798.0,93.5 M706.2,62 L706.2,110 M813.8,62 L813.8,110 M711.6,62 L711.6,93.5 M808.4,62 L808.4,93.5 M695.9,62 L695.9,110 M824.1,62 L824.1,110 M701.3,62 L701.3,93.5 M818.7,62 L818.7,93.5 M685.5,62 L685.5,110 M834.5,62 L834.5,110 M691.0,62 L691.0,93.5 M829.0,62 L829.0,93.5 M675.2,62 L675.2,110 M844.8,62 L844.8,110 M680.6,62 L680.6,93.5 M839.4,62 L839.4,93.5 M664.9,62 L664.9,110 M855.1,62 L855.1,110 M670.2,62 L670.2,93.5 M849.8,62 L849.8,93.5 M654.5,62 L654.5,110 M865.5,62 L865.5,110 M659.9,62 L659.9,93.5 M860.1,62 L860.1,93.5 M644.1,62 L644.1,110 M875.9,62 L875.9,110 M649.5,62 L649.5,93.5 M870.5,62 L870.5,93.5" stroke="#4a3322" stroke-width="0.45" fill="none" opacity="0.8"/>
<path d="M636,94.5 L659,93.8 M884,94.5 L861,93.8" stroke="#4a3322" stroke-width="0.4" fill="none"/>
</g>
<path d="M643,67.6 L760,65.2 L877,67.6 Q879.3,67.7 879.8,70 L885.4,103.8 Q886,107.2 882.5,107.2 L760,105.4 L637.5,107.2 Q634,107.2 634.6,103.8 L640.2,70 Q640.7,67.7 643,67.6 Z" fill="none" stroke="#4a3322" stroke-width="0.5"/>
<rect x="747.8" y="68.6" width="10.2" height="23" fill="#c9cbcc" stroke="#777" stroke-width="0.4"/>
<path d="M748.3,70.5 L757.5,70.5 M748.3,72.1 L757.5,72.1 M748.3,73.7 L757.5,73.7 M748.3,75.3 L757.5,75.3 M748.3,76.9 L757.5,76.9 M748.3,78.5 L757.5,78.5 M748.3,80.1 L757.5,80.1 M748.3,81.7 L757.5,81.7 M748.3,83.3 L757.5,83.3 M748.3,84.9 L757.5,84.9 M748.3,86.5 L757.5,86.5 M748.3,88.1 L757.5,88.1 M748.3,89.7 L757.5,89.7" stroke="#8e9294" stroke-width="0.45" fill="none"/>
<rect x="762.2" y="68.6" width="10.2" height="23" fill="#c9cbcc" stroke="#777" stroke-width="0.4"/>
<path d="M762.7,70.5 L771.9000000000001,70.5 M762.7,72.1 L771.9000000000001,72.1 M762.7,73.7 L771.9000000000001,73.7 M762.7,75.3 L771.9000000000001,75.3 M762.7,76.9 L771.9000000000001,76.9 M762.7,78.5 L771.9000000000001,78.5 M762.7,80.1 L771.9000000000001,80.1 M762.7,81.7 L771.9000000000001,81.7 M762.7,83.3 L771.9000000000001,83.3 M762.7,84.9 L771.9000000000001,84.9 M762.7,86.5 L771.9000000000001,86.5 M762.7,88.1 L771.9000000000001,88.1 M762.7,89.7 L771.9000000000001,89.7" stroke="#8e9294" stroke-width="0.45" fill="none"/>
<path d="M760,64.8 L760,95" stroke="#4a3322" stroke-width="0.5"/>
<rect x="733.5" y="61.5" width="3" height="4.5" rx="1.2" fill="#777"/><rect x="783.5" y="61.5" width="3" height="4.5" rx="1.2" fill="#777"/>
<path d="M751.2,104 C751.2,98 755,95.7 760.3,95.7 C765.6,95.7 769.6,98 769.6,104 L769.3,113 C769,117 766,118.3 760.3,118.3 C754.6,118.3 751.8,117 751.5,113 Z" fill="#232220" stroke="#5a4a3a" stroke-width="0.7"/>
<g transform="translate(665.7,86.8) scale(16.75)"><path d="M -0.34,-1 L 0.34,-1 Q 0.235,-0.6 0.21,-0.21 Q 0.6,-0.235 1,-0.34 L 1,0.34 Q 0.6,0.235 0.21,0.21 Q 0.235,0.6 0.34,1 L -0.34,1 Q -0.235,0.6 -0.21,0.21 Q -0.6,0.235 -1,0.34 L -1,-0.34 Q -0.6,-0.235 -0.21,-0.21 Q -0.235,-0.6 -0.34,-1 Z" fill="#fff" stroke="#fff" stroke-width="0.2030" stroke-linejoin="miter"/><path d="M -0.34,-1 L 0.34,-1 Q 0.235,-0.6 0.21,-0.21 Q 0.6,-0.235 1,-0.34 L 1,0.34 Q 0.6,0.235 0.21,0.21 Q 0.235,0.6 0.34,1 L -0.34,1 Q -0.235,0.6 -0.21,0.21 Q -0.6,0.235 -1,0.34 L -1,-0.34 Q -0.6,-0.235 -0.21,-0.21 Q -0.235,-0.6 -0.34,-1 Z" fill="#2b2a29"/></g>
<g transform="translate(853.6,86.8) scale(16.75)"><path d="M -0.34,-1 L 0.34,-1 Q 0.235,-0.6 0.21,-0.21 Q 0.6,-0.235 1,-0.34 L 1,0.34 Q 0.6,0.235 0.21,0.21 Q 0.235,0.6 0.34,1 L -0.34,1 Q -0.235,0.6 -0.21,0.21 Q -0.6,0.235 -1,0.34 L -1,-0.34 Q -0.6,-0.235 -0.21,-0.21 Q -0.235,-0.6 -0.34,-1 Z" fill="#fff" stroke="#fff" stroke-width="0.2030" stroke-linejoin="miter"/><path d="M -0.34,-1 L 0.34,-1 Q 0.235,-0.6 0.21,-0.21 Q 0.6,-0.235 1,-0.34 L 1,0.34 Q 0.6,0.235 0.21,0.21 Q 0.235,0.6 0.34,1 L -0.34,1 Q -0.235,0.6 -0.21,0.21 Q -0.6,0.235 -1,0.34 L -1,-0.34 Q -0.6,-0.235 -0.21,-0.21 Q -0.235,-0.6 -0.34,-1 Z" fill="#2b2a29"/></g></g>
<g><clipPath id="bw1"><path d="M815.6,137.4 L937.5,139.8 L1059.4,137.4 Q1062.9,137.4 1062.5,140.4 L1057.6,175.6 Q1057.2,178.4 1054,178.5 L937.5,181.2 L821,178.5 Q817.8,178.4 817.4,175.6 L812.5,140.4 Q812.1,137.4 815.6,137.4 Z"/></clipPath>
<path d="M901,28.7 L929,33.8 Q934,35 936.7,40.6 L938.3,40.6 Q941,35 946,33.8 L973,28.7 Q979,28.6 978.8,35 L978.4,38 Q976,50 971.5,60.5 Q968,69.4 963,69.4 L912,69.4 Q907,69.4 903.5,60.5 Q899,50 896.6,38 L896.2,35 Q896,28.6 901,28.7 Z" fill="#C6DDE3" stroke="#5f6f74" stroke-width="0.55"/>
<path d="M908.5,30 L908.5,69 M918,30 L918,69 M927.5,30 L927.5,69 M947.5,30 L947.5,69 M957,30 L957,69 M966.5,30 L966.5,69" stroke="#5f6f74" stroke-width="0.45" fill="none"/>
<path d="M909,45.5 L937.5,38 L966,45.5 M898,44.5 L977,44.5 M909,45.5 L901,58 M966,45.5 L974,58" stroke="#777" stroke-width="0.6" fill="none"/>
<path d="M937.5,23.5 L937.5,56" stroke="#777" stroke-width="1"/>
<path d="M815.6,137.4 L937.5,139.8 L1059.4,137.4 Q1062.9,137.4 1062.5,140.4 L1057.6,175.6 Q1057.2,178.4 1054,178.5 L937.5,181.2 L821,178.5 Q817.8,178.4 817.4,175.6 L812.5,140.4 Q812.1,137.4 815.6,137.4 Z" fill="#C6DDE3"/>
<g clip-path="url(#bw1)">
<path d="M821.8,136 L821.8,182 M1053.2,136 L1053.2,182 M827.0,153 L827.0,182 M1048.0,153 L1048.0,182 M832.2,136 L832.2,182 M1042.8,136 L1042.8,182 M837.5,153 L837.5,182 M1037.5,153 L1037.5,182 M842.7,136 L842.7,182 M1032.3,136 L1032.3,182 M847.9,153 L847.9,182 M1027.1,153 L1027.1,182 M853.1,136 L853.1,182 M1021.9,136 L1021.9,182 M858.4,153 L858.4,182 M1016.6,153 L1016.6,182 M863.6,136 L863.6,182 M1011.4,136 L1011.4,182 M868.8,153 L868.8,182 M1006.2,153 L1006.2,182 M874.0,136 L874.0,182 M1001.0,136 L1001.0,182 M879.2,153 L879.2,182 M995.8,153 L995.8,182 M884.5,136 L884.5,182 M990.5,136 L990.5,182 M889.7,153 L889.7,182 M985.3,153 L985.3,182 M894.9,136 L894.9,182 M980.1,136 L980.1,182 M900.1,153 L900.1,182 M974.9,153 L974.9,182 M905.4,136 L905.4,182 M969.6,136 L969.6,182 M910.6,153 L910.6,182 M964.4,153 L964.4,182 M915.8,136 L915.8,182 M959.2,136 L959.2,182 M921.0,153 L921.0,182 M954.0,153 L954.0,182" stroke="#5f6f74" stroke-width="0.45" fill="none"/>
</g>
<path d="M815.6,137.4 L937.5,139.8 L1059.4,137.4 Q1062.9,137.4 1062.5,140.4 L1057.6,175.6 Q1057.2,178.4 1054,178.5 L937.5,181.2 L821,178.5 Q817.8,178.4 817.4,175.6 L812.5,140.4 Q812.1,137.4 815.6,137.4 Z" fill="none" stroke="#5f6f74" stroke-width="0.55"/>
<path d="M927.4,204 Q929,213 937.5,216.4 Q946,213 947.6,204 Z" fill="#ffffff" stroke="#666" stroke-width="0.5"/>
<path d="M937.5,54.6 L942.2,69.4 L944,86.5 L948.4,134.7 L949.2,150 L949.2,192 Q949,199 947.6,204 L927.4,204 Q926,199 925.7,192 L925.7,150 L926.5,134.7 L931,86.5 L932.9,69.4 Z" fill="#C6DDE3" stroke="#5f6f74" stroke-width="0.55"/>
<rect x="930.6" y="85" width="13.6" height="3" fill="#1d1d1b"/>
<path d="M926.6,150.3 L919.6,173.6 M948,150.3 L957.4,173.6 M927,181 L947,188 M948,181 L928,188" stroke="#7a8a8e" stroke-width="1.1" fill="none"/>
<rect x="913" y="172" width="49" height="2.4" fill="#8a9598"/>
<rect x="922.7" y="170.5" width="29.6" height="6.2" fill="#C6DDE3" stroke="#5f6f74" stroke-width="0.5"/>
<rect x="911.7" y="163.2" width="3.8" height="20.8" rx="1.9" fill="#6f6f6f"/><rect x="959.6" y="163.2" width="3.8" height="20.8" rx="1.9" fill="#6f6f6f"/>
<circle cx="937" cy="191" r="2.4" fill="none" stroke="#5f6f74" stroke-width="0.5"/>
<path d="M928,202 L935,202 M940,202 L947,202 M928,204 L935,204 M940,204 L947,204" stroke="#6f7f84" stroke-width="0.7"/>
<path d="M949.5,190 L953,189.5 L951.5,195 L949.5,196 Z" fill="#b07a55"/>
<g transform="translate(843.5,158.7) scale(16.6)"><path d="M -0.34,-1 L 0.34,-1 Q 0.235,-0.6 0.21,-0.21 Q 0.6,-0.235 1,-0.34 L 1,0.34 Q 0.6,0.235 0.21,0.21 Q 0.235,0.6 0.34,1 L -0.34,1 Q -0.235,0.6 -0.21,0.21 Q -0.6,0.235 -1,0.34 L -1,-0.34 Q -0.6,-0.235 -0.21,-0.21 Q -0.235,-0.6 -0.34,-1 Z" fill="#fff" stroke="#fff" stroke-width="0.1807" stroke-linejoin="miter"/><path d="M -0.34,-1 L 0.34,-1 Q 0.235,-0.6 0.21,-0.21 Q 0.6,-0.235 1,-0.34 L 1,0.34 Q 0.6,0.235 0.21,0.21 Q 0.235,0.6 0.34,1 L -0.34,1 Q -0.235,0.6 -0.21,0.21 Q -0.6,0.235 -1,0.34 L -1,-0.34 Q -0.6,-0.235 -0.21,-0.21 Q -0.235,-0.6 -0.34,-1 Z" fill="#2b2a29"/></g>
<g transform="translate(1032.5,158.7) scale(16.6)"><path d="M -0.34,-1 L 0.34,-1 Q 0.235,-0.6 0.21,-0.21 Q 0.6,-0.235 1,-0.34 L 1,0.34 Q 0.6,0.235 0.21,0.21 Q 0.235,0.6 0.34,1 L -0.34,1 Q -0.235,0.6 -0.21,0.21 Q -0.6,0.235 -1,0.34 L -1,-0.34 Q -0.6,-0.235 -0.21,-0.21 Q -0.235,-0.6 -0.34,-1 Z" fill="#fff" stroke="#fff" stroke-width="0.1807" stroke-linejoin="miter"/><path d="M -0.34,-1 L 0.34,-1 Q 0.235,-0.6 0.21,-0.21 Q 0.6,-0.235 1,-0.34 L 1,0.34 Q 0.6,0.235 0.21,0.21 Q 0.235,0.6 0.34,1 L -0.34,1 Q -0.235,0.6 -0.21,0.21 Q -0.6,0.235 -1,0.34 L -1,-0.34 Q -0.6,-0.235 -0.21,-0.21 Q -0.235,-0.6 -0.34,-1 Z" fill="#2b2a29"/></g></g>
<g transform="translate(0,236.8)"><clipPath id="bw2"><path d="M815.6,137.4 L937.5,139.8 L1059.4,137.4 Q1062.9,137.4 1062.5,140.4 L1057.6,175.6 Q1057.2,178.4 1054,178.5 L937.5,181.2 L821,178.5 Q817.8,178.4 817.4,175.6 L812.5,140.4 Q812.1,137.4 815.6,137.4 Z"/></clipPath>
<path d="M901,28.7 L929,33.8 Q934,35 936.7,40.6 L938.3,40.6 Q941,35 946,33.8 L973,28.7 Q979,28.6 978.8,35 L978.4,38 Q976,50 971.5,60.5 Q968,69.4 963,69.4 L912,69.4 Q907,69.4 903.5,60.5 Q899,50 896.6,38 L896.2,35 Q896,28.6 901,28.7 Z" fill="#C6DDE3" stroke="#5f6f74" stroke-width="0.55"/>
<path d="M908.5,30 L908.5,69 M918,30 L918,69 M927.5,30 L927.5,69 M947.5,30 L947.5,69 M957,30 L957,69 M966.5,30 L966.5,69" stroke="#5f6f74" stroke-width="0.45" fill="none"/>
<path d="M909,45.5 L937.5,38 L966,45.5 M898,44.5 L977,44.5 M909,45.5 L901,58 M966,45.5 L974,58" stroke="#777" stroke-width="0.6" fill="none"/>
<path d="M937.5,23.5 L937.5,56" stroke="#777" stroke-width="1"/>
<path d="M815.6,137.4 L937.5,139.8 L1059.4,137.4 Q1062.9,137.4 1062.5,140.4 L1057.6,175.6 Q1057.2,178.4 1054,178.5 L937.5,181.2 L821,178.5 Q817.8,178.4 817.4,175.6 L812.5,140.4 Q812.1,137.4 815.6,137.4 Z" fill="#C6DDE3"/>
<g clip-path="url(#bw2)">
<path d="M821.8,136 L821.8,182 M1053.2,136 L1053.2,182 M827.0,153 L827.0,182 M1048.0,153 L1048.0,182 M832.2,136 L832.2,182 M1042.8,136 L1042.8,182 M837.5,153 L837.5,182 M1037.5,153 L1037.5,182 M842.7,136 L842.7,182 M1032.3,136 L1032.3,182 M847.9,153 L847.9,182 M1027.1,153 L1027.1,182 M853.1,136 L853.1,182 M1021.9,136 L1021.9,182 M858.4,153 L858.4,182 M1016.6,153 L1016.6,182 M863.6,136 L863.6,182 M1011.4,136 L1011.4,182 M868.8,153 L868.8,182 M1006.2,153 L1006.2,182 M874.0,136 L874.0,182 M1001.0,136 L1001.0,182 M879.2,153 L879.2,182 M995.8,153 L995.8,182 M884.5,136 L884.5,182 M990.5,136 L990.5,182 M889.7,153 L889.7,182 M985.3,153 L985.3,182 M894.9,136 L894.9,182 M980.1,136 L980.1,182 M900.1,153 L900.1,182 M974.9,153 L974.9,182 M905.4,136 L905.4,182 M969.6,136 L969.6,182 M910.6,153 L910.6,182 M964.4,153 L964.4,182 M915.8,136 L915.8,182 M959.2,136 L959.2,182 M921.0,153 L921.0,182 M954.0,153 L954.0,182" stroke="#5f6f74" stroke-width="0.45" fill="none"/>
</g>
<path d="M815.6,137.4 L937.5,139.8 L1059.4,137.4 Q1062.9,137.4 1062.5,140.4 L1057.6,175.6 Q1057.2,178.4 1054,178.5 L937.5,181.2 L821,178.5 Q817.8,178.4 817.4,175.6 L812.5,140.4 Q812.1,137.4 815.6,137.4 Z" fill="none" stroke="#5f6f74" stroke-width="0.55"/>
<path d="M927.4,204 Q929,213 937.5,216.4 Q946,213 947.6,204 Z" fill="#ffffff" stroke="#666" stroke-width="0.5"/>
<path d="M937.5,54.6 L942.2,69.4 L944,86.5 L948.4,134.7 L949.2,150 L949.2,192 Q949,199 947.6,204 L927.4,204 Q926,199 925.7,192 L925.7,150 L926.5,134.7 L931,86.5 L932.9,69.4 Z" fill="#C6DDE3" stroke="#5f6f74" stroke-width="0.55"/>
<path d="M926.6,150.3 L919.6,173.6 M948,150.3 L957.4,173.6 M927,181 L947,188 M948,181 L928,188" stroke="#7a8a8e" stroke-width="1.1" fill="none"/>
<rect x="913" y="172" width="49" height="2.4" fill="#8a9598"/>
<rect x="922.7" y="170.5" width="29.6" height="6.2" fill="#C6DDE3" stroke="#5f6f74" stroke-width="0.5"/>
<rect x="911.7" y="163.2" width="3.8" height="20.8" rx="1.9" fill="#6f6f6f"/><rect x="959.6" y="163.2" width="3.8" height="20.8" rx="1.9" fill="#6f6f6f"/>
<circle cx="937" cy="191" r="2.4" fill="none" stroke="#5f6f74" stroke-width="0.5"/>
<path d="M928,202 L935,202 M940,202 L947,202 M928,204 L935,204 M940,204 L947,204" stroke="#6f7f84" stroke-width="0.7"/>
<path d="M949.5,190 L953,189.5 L951.5,195 L949.5,196 Z" fill="#b07a55"/>
<g transform="translate(843.5,158.7) scale(16.6)"><path d="M -0.34,-1 L 0.34,-1 Q 0.235,-0.6 0.21,-0.21 Q 0.6,-0.235 1,-0.34 L 1,0.34 Q 0.6,0.235 0.21,0.21 Q 0.235,0.6 0.34,1 L -0.34,1 Q -0.235,0.6 -0.21,0.21 Q -0.6,0.235 -1,0.34 L -1,-0.34 Q -0.6,-0.235 -0.21,-0.21 Q -0.235,-0.6 -0.34,-1 Z" fill="#fff" stroke="#fff" stroke-width="0.1807" stroke-linejoin="miter"/><path d="M -0.34,-1 L 0.34,-1 Q 0.235,-0.6 0.21,-0.21 Q 0.6,-0.235 1,-0.34 L 1,0.34 Q 0.6,0.235 0.21,0.21 Q 0.235,0.6 0.34,1 L -0.34,1 Q -0.235,0.6 -0.21,0.21 Q -0.6,0.235 -1,0.34 L -1,-0.34 Q -0.6,-0.235 -0.21,-0.21 Q -0.235,-0.6 -0.34,-1 Z" fill="#2b2a29"/></g>
<g transform="translate(1032.5,158.7) scale(16.6)"><path d="M -0.34,-1 L 0.34,-1 Q 0.235,-0.6 0.21,-0.21 Q 0.6,-0.235 1,-0.34 L 1,0.34 Q 0.6,0.235 0.21,0.21 Q 0.235,0.6 0.34,1 L -0.34,1 Q -0.235,0.6 -0.21,0.21 Q -0.6,0.235 -1,0.34 L -1,-0.34 Q -0.6,-0.235 -0.21,-0.21 Q -0.235,-0.6 -0.34,-1 Z" fill="#fff" stroke="#fff" stroke-width="0.1807" stroke-linejoin="miter"/><path d="M -0.34,-1 L 0.34,-1 Q 0.235,-0.6 0.21,-0.21 Q 0.6,-0.235 1,-0.34 L 1,0.34 Q 0.6,0.235 0.21,0.21 Q 0.235,0.6 0.34,1 L -0.34,1 Q -0.235,0.6 -0.21,0.21 Q -0.6,0.235 -1,0.34 L -1,-0.34 Q -0.6,-0.235 -0.21,-0.21 Q -0.235,-0.6 -0.34,-1 Z" fill="#2b2a29"/></g></g>
<g transform="translate(-4.5,467.8)"><clipPath id="bw3"><path d="M815.6,137.4 L937.5,139.8 L1059.4,137.4 Q1062.9,137.4 1062.5,140.4 L1057.6,175.6 Q1057.2,178.4 1054,178.5 L937.5,181.2 L821,178.5 Q817.8,178.4 817.4,175.6 L812.5,140.4 Q812.1,137.4 815.6,137.4 Z"/></clipPath>
<path d="M901,28.7 L929,33.8 Q934,35 936.7,40.6 L938.3,40.6 Q941,35 946,33.8 L973,28.7 Q979,28.6 978.8,35 L978.4,38 Q976,50 971.5,60.5 Q968,69.4 963,69.4 L912,69.4 Q907,69.4 903.5,60.5 Q899,50 896.6,38 L896.2,35 Q896,28.6 901,28.7 Z" fill="#C6DDE3" stroke="#5f6f74" stroke-width="0.55"/>
<path d="M908.5,30 L908.5,69 M918,30 L918,69 M927.5,30 L927.5,69 M947.5,30 L947.5,69 M957,30 L957,69 M966.5,30 L966.5,69" stroke="#5f6f74" stroke-width="0.45" fill="none"/>
<path d="M909,45.5 L937.5,38 L966,45.5 M898,44.5 L977,44.5 M909,45.5 L901,58 M966,45.5 L974,58" stroke="#777" stroke-width="0.6" fill="none"/>
<path d="M937.5,23.5 L937.5,56" stroke="#777" stroke-width="1"/>
<path d="M815.6,137.4 L937.5,139.8 L1059.4,137.4 Q1062.9,137.4 1062.5,140.4 L1057.6,175.6 Q1057.2,178.4 1054,178.5 L937.5,181.2 L821,178.5 Q817.8,178.4 817.4,175.6 L812.5,140.4 Q812.1,137.4 815.6,137.4 Z" fill="#C6DDE3"/>
<g clip-path="url(#bw3)">
<path d="M821.8,136 L821.8,182 M1053.2,136 L1053.2,182 M827.0,153 L827.0,182 M1048.0,153 L1048.0,182 M832.2,136 L832.2,182 M1042.8,136 L1042.8,182 M837.5,153 L837.5,182 M1037.5,153 L1037.5,182 M842.7,136 L842.7,182 M1032.3,136 L1032.3,182 M847.9,153 L847.9,182 M1027.1,153 L1027.1,182 M853.1,136 L853.1,182 M1021.9,136 L1021.9,182 M858.4,153 L858.4,182 M1016.6,153 L1016.6,182 M863.6,136 L863.6,182 M1011.4,136 L1011.4,182 M868.8,153 L868.8,182 M1006.2,153 L1006.2,182 M874.0,136 L874.0,182 M1001.0,136 L1001.0,182 M879.2,153 L879.2,182 M995.8,153 L995.8,182 M884.5,136 L884.5,182 M990.5,136 L990.5,182 M889.7,153 L889.7,182 M985.3,153 L985.3,182 M894.9,136 L894.9,182 M980.1,136 L980.1,182 M900.1,153 L900.1,182 M974.9,153 L974.9,182 M905.4,136 L905.4,182 M969.6,136 L969.6,182 M910.6,153 L910.6,182 M964.4,153 L964.4,182 M915.8,136 L915.8,182 M959.2,136 L959.2,182 M921.0,153 L921.0,182 M954.0,153 L954.0,182" stroke="#5f6f74" stroke-width="0.45" fill="none"/>
</g>
<path d="M815.6,137.4 L937.5,139.8 L1059.4,137.4 Q1062.9,137.4 1062.5,140.4 L1057.6,175.6 Q1057.2,178.4 1054,178.5 L937.5,181.2 L821,178.5 Q817.8,178.4 817.4,175.6 L812.5,140.4 Q812.1,137.4 815.6,137.4 Z" fill="none" stroke="#5f6f74" stroke-width="0.55"/>
<path d="M927.4,204 Q929,213 937.5,216.4 Q946,213 947.6,204 Z" fill="#B36E3C" stroke="#666" stroke-width="0.5"/>
<path d="M937.5,54.6 L942.2,69.4 L944,86.5 L948.4,134.7 L949.2,150 L949.2,192 Q949,199 947.6,204 L927.4,204 Q926,199 925.7,192 L925.7,150 L926.5,134.7 L931,86.5 L932.9,69.4 Z" fill="#C6DDE3" stroke="#5f6f74" stroke-width="0.55"/>
<path d="M931.1,79.8 L943.9,79.8 L946.1,102.9 L928.9,102.9 Z" fill="#1d1d1b"/>
<path d="M926.6,150.3 L919.6,173.6 M948,150.3 L957.4,173.6 M927,181 L947,188 M948,181 L928,188" stroke="#7a8a8e" stroke-width="1.1" fill="none"/>
<rect x="913" y="172" width="49" height="2.4" fill="#8a9598"/>
<rect x="922.7" y="170.5" width="29.6" height="6.2" fill="#C6DDE3" stroke="#5f6f74" stroke-width="0.5"/>
<rect x="911.7" y="163.2" width="3.8" height="20.8" rx="1.9" fill="#6f6f6f"/><rect x="959.6" y="163.2" width="3.8" height="20.8" rx="1.9" fill="#6f6f6f"/>
<circle cx="937" cy="191" r="2.4" fill="none" stroke="#5f6f74" stroke-width="0.5"/>
<path d="M928,202 L935,202 M940,202 L947,202 M928,204 L935,204 M940,204 L947,204" stroke="#6f7f84" stroke-width="0.7"/>
<path d="M949.5,190 L953,189.5 L951.5,195 L949.5,196 Z" fill="#b07a55"/>
<g transform="translate(843.5,158.7) scale(16.6)"><path d="M -0.34,-1 L 0.34,-1 Q 0.235,-0.6 0.21,-0.21 Q 0.6,-0.235 1,-0.34 L 1,0.34 Q 0.6,0.235 0.21,0.21 Q 0.235,0.6 0.34,1 L -0.34,1 Q -0.235,0.6 -0.21,0.21 Q -0.6,0.235 -1,0.34 L -1,-0.34 Q -0.6,-0.235 -0.21,-0.21 Q -0.235,-0.6 -0.34,-1 Z" fill="#fff" stroke="#fff" stroke-width="0.1807" stroke-linejoin="miter"/><path d="M -0.34,-1 L 0.34,-1 Q 0.235,-0.6 0.21,-0.21 Q 0.6,-0.235 1,-0.34 L 1,0.34 Q 0.6,0.235 0.21,0.21 Q 0.235,0.6 0.34,1 L -0.34,1 Q -0.235,0.6 -0.21,0.21 Q -0.6,0.235 -1,0.34 L -1,-0.34 Q -0.6,-0.235 -0.21,-0.21 Q -0.235,-0.6 -0.34,-1 Z" fill="#2b2a29"/></g>
<g transform="translate(1032.5,158.7) scale(16.6)"><path d="M -0.34,-1 L 0.34,-1 Q 0.235,-0.6 0.21,-0.21 Q 0.6,-0.235 1,-0.34 L 1,0.34 Q 0.6,0.235 0.21,0.21 Q 0.235,0.6 0.34,1 L -0.34,1 Q -0.235,0.6 -0.21,0.21 Q -0.6,0.235 -1,0.34 L -1,-0.34 Q -0.6,-0.235 -0.21,-0.21 Q -0.235,-0.6 -0.34,-1 Z" fill="#fff" stroke="#fff" stroke-width="0.1807" stroke-linejoin="miter"/><path d="M -0.34,-1 L 0.34,-1 Q 0.235,-0.6 0.21,-0.21 Q 0.6,-0.235 1,-0.34 L 1,0.34 Q 0.6,0.235 0.21,0.21 Q 0.235,0.6 0.34,1 L -0.34,1 Q -0.235,0.6 -0.21,0.21 Q -0.6,0.235 -1,0.34 L -1,-0.34 Q -0.6,-0.235 -0.21,-0.21 Q -0.235,-0.6 -0.34,-1 Z" fill="#2b2a29"/></g></g>
<path d="M333.2,142 L333.2,194.7" stroke="#666" stroke-width="0.7" fill="none"/>
<path d="M372.4,123 L370,192.8" stroke="#666" stroke-width="0.7" fill="none"/>
<path d="M395.5,208 L415.6,198.5" stroke="#666" stroke-width="0.7" fill="none"/>
<path d="M553,101.3 L582,101.3" stroke="#666" stroke-width="0.7" fill="none"/>
<path d="M506,207 L506,234" stroke="#666" stroke-width="0.7" fill="none"/>
<path d="M535,216 L535,234" stroke="#666" stroke-width="0.7" fill="none"/>
<path d="M676,107 L676,133" stroke="#666" stroke-width="0.7" fill="none"/>
<path d="M842,179 L842,205" stroke="#666" stroke-width="0.7" fill="none"/>
<path d="M331.7,374 L331.7,403" stroke="#666" stroke-width="0.7" fill="none"/>
<path d="M380,340 L379.4,408.6" stroke="#666" stroke-width="0.7" fill="none"/>
<path d="M552,331.6 L577.6,328" stroke="#666" stroke-width="0.7" fill="none"/>
<path d="M493.5,435 L493.5,462" stroke="#666" stroke-width="0.7" fill="none"/>
<path d="M529,451 L529,463" stroke="#666" stroke-width="0.7" fill="none"/>
<path d="M386.7,442.6 L415.1,432.3" stroke="#666" stroke-width="0.7" fill="none"/>
<path d="M669,340 L669,364" stroke="#666" stroke-width="0.7" fill="none"/>
<path d="M731.9,386.6 L749.7,386.6" stroke="#666" stroke-width="0.7" fill="none"/>
<path d="M763,387.2 L778.5,387.2" stroke="#666" stroke-width="0.7" fill="none"/>
<path d="M844,414.6 L844,439" stroke="#666" stroke-width="0.7" fill="none"/>
<path d="M338.8,603 L338.8,637" stroke="#666" stroke-width="0.7" fill="none"/>
<path d="M388.5,605 L388.5,637" stroke="#666" stroke-width="0.7" fill="none"/>
<path d="M554,559.4 L576.9,558.5" stroke="#666" stroke-width="0.7" fill="none"/>
<path d="M503.6,675 L503.6,693" stroke="#666" stroke-width="0.7" fill="none"/>
<path d="M527.8,676 L527.8,693" stroke="#666" stroke-width="0.7" fill="none"/>
<path d="M395,665 L420,655" stroke="#666" stroke-width="0.7" fill="none"/>
<path d="M674,575 L674,592" stroke="#666" stroke-width="0.7" fill="none"/>
<path d="M849,648 L849,663" stroke="#666" stroke-width="0.7" fill="none"/>
<text x="333.5" y="208.1" font-family="'Liberation Sans', sans-serif" font-size="14" font-weight="normal" font-style="normal" text-anchor="middle" fill="#222" >3</text>
<text x="371.4" y="206.2" font-family="'Liberation Sans', sans-serif" font-size="14" font-weight="normal" font-style="normal" text-anchor="middle" fill="#222" >5</text>
<text x="392.2" y="215" font-family="'Liberation Sans', sans-serif" font-size="14" font-weight="normal" font-style="normal" text-anchor="middle" fill="#222" >4</text>
<text x="590.4" y="108" font-family="'Liberation Sans', sans-serif" font-size="14" font-weight="normal" font-style="normal" text-anchor="middle" fill="#222" >4</text>
<text x="507" y="249.7" font-family="'Liberation Sans', sans-serif" font-size="14" font-weight="normal" font-style="normal" text-anchor="middle" fill="#222" >5</text>
<text x="535.3" y="249.7" font-family="'Liberation Sans', sans-serif" font-size="14" font-weight="normal" font-style="normal" text-anchor="middle" fill="#222" >3</text>
<text x="676.6" y="147.4" font-family="'Liberation Sans', sans-serif" font-size="14" font-weight="normal" font-style="normal" text-anchor="middle" fill="#222" >1</text>
<text x="842.7" y="219.6" font-family="'Liberation Sans', sans-serif" font-size="14" font-weight="normal" font-style="normal" text-anchor="middle" fill="#222" >2</text>
<text x="331.7" y="418" font-family="'Liberation Sans', sans-serif" font-size="14" font-weight="normal" font-style="normal" text-anchor="middle" fill="#222" >3</text>
<text x="379.5" y="420.6" font-family="'Liberation Sans', sans-serif" font-size="14" font-weight="normal" font-style="normal" text-anchor="middle" fill="#222" >6</text>
<text x="583" y="332.9" font-family="'Liberation Sans', sans-serif" font-size="14" font-weight="normal" font-style="normal" text-anchor="middle" fill="#222" >4</text>
<text x="493.5" y="477.4" font-family="'Liberation Sans', sans-serif" font-size="14" font-weight="normal" font-style="normal" text-anchor="middle" fill="#222" >7</text>
<text x="529.2" y="478.3" font-family="'Liberation Sans', sans-serif" font-size="14" font-weight="normal" font-style="normal" text-anchor="middle" fill="#222" >3</text>
<text x="382.2" y="447.4" font-family="'Liberation Sans', sans-serif" font-size="14" font-weight="normal" font-style="normal" text-anchor="middle" fill="#222" >4</text>
<text x="669.5" y="377.4" font-family="'Liberation Sans', sans-serif" font-size="14" font-weight="normal" font-style="normal" text-anchor="middle" fill="#222" >1</text>
<text x="726.4" y="391.5" font-family="'Liberation Sans', sans-serif" font-size="14" font-weight="normal" font-style="normal" text-anchor="middle" fill="#222" >6</text>
<text x="782.4" y="391.5" font-family="'Liberation Sans', sans-serif" font-size="14" font-weight="normal" font-style="normal" text-anchor="middle" fill="#222" >7</text>
<text x="844.9" y="453.6" font-family="'Liberation Sans', sans-serif" font-size="14" font-weight="normal" font-style="normal" text-anchor="middle" fill="#222" >2</text>
<text x="338.8" y="652" font-family="'Liberation Sans', sans-serif" font-size="14" font-weight="normal" font-style="normal" text-anchor="middle" fill="#222" >3</text>
<text x="388.5" y="652" font-family="'Liberation Sans', sans-serif" font-size="14" font-weight="normal" font-style="normal" text-anchor="middle" fill="#222" >8</text>
<text x="582.3" y="564.9" font-family="'Liberation Sans', sans-serif" font-size="14" font-weight="normal" font-style="normal" text-anchor="middle" fill="#222" >4</text>
<text x="503.6" y="708.3" font-family="'Liberation Sans', sans-serif" font-size="14" font-weight="normal" font-style="normal" text-anchor="middle" fill="#222" >8</text>
<text x="527.8" y="708.3" font-family="'Liberation Sans', sans-serif" font-size="14" font-weight="normal" font-style="normal" text-anchor="middle" fill="#222" >3</text>
<text x="389.6" y="673.4" font-family="'Liberation Sans', sans-serif" font-size="14" font-weight="normal" font-style="normal" text-anchor="middle" fill="#222" >4</text>
<text x="674.4" y="607" font-family="'Liberation Sans', sans-serif" font-size="14" font-weight="normal" font-style="normal" text-anchor="middle" fill="#222" >1</text>
<text x="849" y="677.7" font-family="'Liberation Sans', sans-serif" font-size="14" font-weight="normal" font-style="normal" text-anchor="middle" fill="#222" >2</text>
</svg>
</body></html>
